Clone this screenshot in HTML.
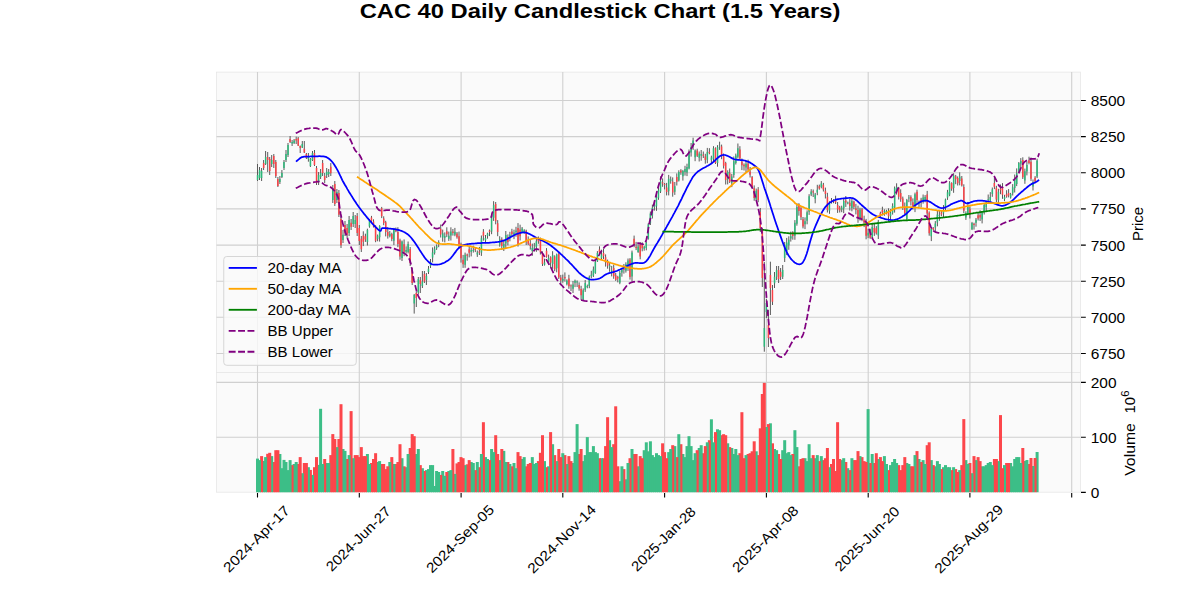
<!DOCTYPE html>
<html><head><meta charset="utf-8"><style>
html,body{margin:0;padding:0;background:#fff;}
svg{display:block;}
.t{font-family:"Liberation Sans",sans-serif;font-size:14px;fill:#000;}
.title{font-family:"Liberation Sans",sans-serif;font-size:20px;font-weight:bold;fill:#000;}
</style></head><body>
<svg width="1200" height="600" viewBox="0 0 1200 600">
<rect x="216.5" y="72.1" width="864.0" height="300.4" fill="#fafafa" stroke="#e6e6e6" stroke-width="0.8"/>
<rect x="216.5" y="372.5" width="864.0" height="119.69999999999999" fill="#fafafa" stroke="#e6e6e6" stroke-width="0.8"/>
<path d="M257.5,72.1V372.5M257.5,372.5V492.2M359.3,72.1V372.5M359.3,372.5V492.2M461.1,72.1V372.5M461.1,372.5V492.2M562.8,72.1V372.5M562.8,372.5V492.2M664.6,72.1V372.5M664.6,372.5V492.2M766.4,72.1V372.5M766.4,372.5V492.2M868.2,72.1V372.5M868.2,372.5V492.2M969.9,72.1V372.5M969.9,372.5V492.2M1071.7,72.1V372.5M1071.7,372.5V492.2M216.5,100.5H1080.5M216.5,136.6H1080.5M216.5,172.8H1080.5M216.5,208.9H1080.5M216.5,245.1H1080.5M216.5,281.2H1080.5M216.5,317.3H1080.5M216.5,353.5H1080.5M216.5,382.4H1080.5M216.5,437.3H1080.5" stroke="#d0d0d0" stroke-width="1.1" fill="none"/>
<g><rect x="1035.6" y="452" width="3" height="40.2" fill="#3cbe87"/><rect x="1033.6" y="458" width="3" height="34.2" fill="#fc464b"/><rect x="1031.5" y="466" width="3" height="26.2" fill="#3cbe87"/><rect x="1029.5" y="458" width="3" height="34.2" fill="#fc464b"/><rect x="1027.5" y="464" width="3" height="28.2" fill="#fc464b"/><rect x="1025.4" y="460" width="3" height="32.2" fill="#3cbe87"/><rect x="1023.4" y="461" width="3" height="31.2" fill="#3cbe87"/><rect x="1021.3" y="448" width="3" height="44.2" fill="#fc464b"/><rect x="1019.3" y="463" width="3" height="29.2" fill="#3cbe87"/><rect x="1017.3" y="457.1" width="3" height="35.1" fill="#3cbe87"/><rect x="1015.2" y="457.1" width="3" height="35.1" fill="#3cbe87"/><rect x="1013.2" y="459" width="3" height="33.2" fill="#3cbe87"/><rect x="1011.2" y="466.3" width="3" height="25.9" fill="#3cbe87"/><rect x="1009.1" y="463" width="3" height="29.2" fill="#3cbe87"/><rect x="1007.1" y="463" width="3" height="29.2" fill="#fc464b"/><rect x="1005.1" y="463" width="3" height="29.2" fill="#fc464b"/><rect x="1003" y="465.1" width="3" height="27.1" fill="#3cbe87"/><rect x="1001" y="468.2" width="3" height="24" fill="#fc464b"/><rect x="999" y="415.1" width="3" height="77.1" fill="#fc464b"/><rect x="996.9" y="461.1" width="3" height="31.1" fill="#3cbe87"/><rect x="994.9" y="459" width="3" height="33.2" fill="#fc464b"/><rect x="992.9" y="459" width="3" height="33.2" fill="#fc464b"/><rect x="990.8" y="465.1" width="3" height="27.1" fill="#3cbe87"/><rect x="988.8" y="462" width="3" height="30.2" fill="#3cbe87"/><rect x="986.7" y="463" width="3" height="29.2" fill="#3cbe87"/><rect x="984.7" y="465.1" width="3" height="27.1" fill="#3cbe87"/><rect x="982.7" y="466.3" width="3" height="25.9" fill="#3cbe87"/><rect x="980.6" y="466.3" width="3" height="25.9" fill="#3cbe87"/><rect x="978.6" y="461.1" width="3" height="31.1" fill="#fc464b"/><rect x="976.6" y="457.1" width="3" height="35.1" fill="#fc464b"/><rect x="974.5" y="460.1" width="3" height="32.1" fill="#3cbe87"/><rect x="972.5" y="456.1" width="3" height="36.1" fill="#fc464b"/><rect x="970.5" y="473.2" width="3" height="19" fill="#3cbe87"/><rect x="968.4" y="463" width="3" height="29.2" fill="#fc464b"/><rect x="966.4" y="464" width="3" height="28.2" fill="#3cbe87"/><rect x="964.4" y="460.1" width="3" height="32.1" fill="#3cbe87"/><rect x="962.3" y="419.1" width="3" height="73.1" fill="#fc464b"/><rect x="960.3" y="465.1" width="3" height="27.1" fill="#fc464b"/><rect x="958.2" y="470.1" width="3" height="22.1" fill="#3cbe87"/><rect x="956.2" y="472" width="3" height="20.2" fill="#fc464b"/><rect x="954.2" y="469.1" width="3" height="23.1" fill="#fc464b"/><rect x="952.1" y="467.2" width="3" height="25" fill="#3cbe87"/><rect x="950.1" y="470.1" width="3" height="22.1" fill="#fc464b"/><rect x="948.1" y="467.2" width="3" height="25" fill="#3cbe87"/><rect x="946" y="467.2" width="3" height="25" fill="#3cbe87"/><rect x="944" y="465.1" width="3" height="27.1" fill="#3cbe87"/><rect x="942" y="467.2" width="3" height="25" fill="#3cbe87"/><rect x="939.9" y="469.1" width="3" height="23.1" fill="#fc464b"/><rect x="937.9" y="464" width="3" height="28.2" fill="#3cbe87"/><rect x="935.9" y="461.1" width="3" height="31.1" fill="#3cbe87"/><rect x="933.8" y="466.3" width="3" height="25.9" fill="#3cbe87"/><rect x="931.8" y="465.1" width="3" height="27.1" fill="#fc464b"/><rect x="929.8" y="460.1" width="3" height="32.1" fill="#3cbe87"/><rect x="927.7" y="442.3" width="3" height="49.9" fill="#fc464b"/><rect x="925.7" y="445.2" width="3" height="47" fill="#fc464b"/><rect x="923.6" y="464" width="3" height="28.2" fill="#3cbe87"/><rect x="921.6" y="460.1" width="3" height="32.1" fill="#3cbe87"/><rect x="919.6" y="462" width="3" height="30.2" fill="#fc464b"/><rect x="917.5" y="459" width="3" height="33.2" fill="#3cbe87"/><rect x="915.5" y="451.1" width="3" height="41.1" fill="#fc464b"/><rect x="913.5" y="455.1" width="3" height="37.1" fill="#3cbe87"/><rect x="911.4" y="466.3" width="3" height="25.9" fill="#fc464b"/><rect x="909.4" y="466.3" width="3" height="25.9" fill="#fc464b"/><rect x="907.4" y="464" width="3" height="28.2" fill="#3cbe87"/><rect x="905.3" y="463" width="3" height="29.2" fill="#3cbe87"/><rect x="903.3" y="457.1" width="3" height="35.1" fill="#fc464b"/><rect x="901.3" y="465.1" width="3" height="27.1" fill="#fc464b"/><rect x="899.2" y="470.1" width="3" height="22.1" fill="#fc464b"/><rect x="897.2" y="465.1" width="3" height="27.1" fill="#fc464b"/><rect x="895.1" y="463" width="3" height="29.2" fill="#3cbe87"/><rect x="893.1" y="459" width="3" height="33.2" fill="#3cbe87"/><rect x="891.1" y="462" width="3" height="30.2" fill="#3cbe87"/><rect x="889" y="465.1" width="3" height="27.1" fill="#3cbe87"/><rect x="887" y="470.1" width="3" height="22.1" fill="#fc464b"/><rect x="885" y="464" width="3" height="28.2" fill="#3cbe87"/><rect x="882.9" y="456.1" width="3" height="36.1" fill="#3cbe87"/><rect x="880.9" y="461.1" width="3" height="31.1" fill="#fc464b"/><rect x="878.9" y="457.1" width="3" height="35.1" fill="#fc464b"/><rect x="876.8" y="459" width="3" height="33.2" fill="#3cbe87"/><rect x="874.8" y="453.2" width="3" height="39" fill="#fc464b"/><rect x="872.8" y="463" width="3" height="29.2" fill="#fc464b"/><rect x="870.7" y="454" width="3" height="38.2" fill="#3cbe87"/><rect x="868.7" y="463" width="3" height="29.2" fill="#fc464b"/><rect x="866.6" y="409.1" width="3" height="83.1" fill="#3cbe87"/><rect x="864.6" y="462" width="3" height="30.2" fill="#fc464b"/><rect x="862.6" y="461.1" width="3" height="31.1" fill="#fc464b"/><rect x="860.5" y="457.1" width="3" height="35.1" fill="#fc464b"/><rect x="858.5" y="456.1" width="3" height="36.1" fill="#3cbe87"/><rect x="856.5" y="451.1" width="3" height="41.1" fill="#fc464b"/><rect x="854.4" y="460.1" width="3" height="32.1" fill="#fc464b"/><rect x="852.4" y="460.1" width="3" height="32.1" fill="#fc464b"/><rect x="850.4" y="458.2" width="3" height="34" fill="#3cbe87"/><rect x="848.3" y="470.1" width="3" height="22.1" fill="#fc464b"/><rect x="846.3" y="468.2" width="3" height="24" fill="#3cbe87"/><rect x="844.3" y="462" width="3" height="30.2" fill="#fc464b"/><rect x="842.2" y="458.2" width="3" height="34" fill="#3cbe87"/><rect x="840.2" y="460.1" width="3" height="32.1" fill="#3cbe87"/><rect x="838.2" y="459" width="3" height="33.2" fill="#fc464b"/><rect x="836.1" y="422.2" width="3" height="70" fill="#fc464b"/><rect x="834.1" y="471" width="3" height="21.2" fill="#fc464b"/><rect x="832" y="459" width="3" height="33.2" fill="#fc464b"/><rect x="830" y="464" width="3" height="28.2" fill="#fc464b"/><rect x="828" y="467.2" width="3" height="25" fill="#3cbe87"/><rect x="825.9" y="448" width="3" height="44.2" fill="#fc464b"/><rect x="823.9" y="458.2" width="3" height="34" fill="#fc464b"/><rect x="821.9" y="460.1" width="3" height="32.1" fill="#fc464b"/><rect x="819.8" y="456.1" width="3" height="36.1" fill="#3cbe87"/><rect x="817.8" y="461.1" width="3" height="31.1" fill="#fc464b"/><rect x="815.8" y="455.1" width="3" height="37.1" fill="#3cbe87"/><rect x="813.7" y="458.2" width="3" height="34" fill="#3cbe87"/><rect x="811.7" y="455.1" width="3" height="37.1" fill="#fc464b"/><rect x="809.7" y="458.2" width="3" height="34" fill="#3cbe87"/><rect x="807.6" y="444.2" width="3" height="48" fill="#3cbe87"/><rect x="805.6" y="461.1" width="3" height="31.1" fill="#3cbe87"/><rect x="803.5" y="458.2" width="3" height="34" fill="#3cbe87"/><rect x="801.5" y="458.2" width="3" height="34" fill="#fc464b"/><rect x="799.5" y="459" width="3" height="33.2" fill="#fc464b"/><rect x="797.4" y="466.3" width="3" height="25.9" fill="#fc464b"/><rect x="795.4" y="447.1" width="3" height="45.1" fill="#3cbe87"/><rect x="793.4" y="430.2" width="3" height="62" fill="#3cbe87"/><rect x="791.3" y="454" width="3" height="38.2" fill="#fc464b"/><rect x="789.3" y="455.1" width="3" height="37.1" fill="#3cbe87"/><rect x="787.3" y="452.1" width="3" height="40.1" fill="#3cbe87"/><rect x="785.2" y="453.2" width="3" height="39" fill="#3cbe87"/><rect x="783.2" y="440.2" width="3" height="52" fill="#3cbe87"/><rect x="781.2" y="450.2" width="3" height="42" fill="#3cbe87"/><rect x="779.1" y="459" width="3" height="33.2" fill="#fc464b"/><rect x="777.1" y="454" width="3" height="38.2" fill="#fc464b"/><rect x="775.1" y="450.2" width="3" height="42" fill="#3cbe87"/><rect x="773" y="449" width="3" height="43.2" fill="#3cbe87"/><rect x="771" y="443.3" width="3" height="48.9" fill="#fc464b"/><rect x="768.9" y="423.3" width="3" height="68.9" fill="#3cbe87"/><rect x="766.9" y="424.1" width="3" height="68.1" fill="#fc464b"/><rect x="764.9" y="427" width="3" height="65.2" fill="#3cbe87"/><rect x="762.8" y="382.9" width="3" height="109.3" fill="#fc464b"/><rect x="760.8" y="394" width="3" height="98.2" fill="#fc464b"/><rect x="758.8" y="428.3" width="3" height="63.9" fill="#fc464b"/><rect x="756.7" y="455.1" width="3" height="37.1" fill="#fc464b"/><rect x="754.7" y="451.3" width="3" height="40.9" fill="#3cbe87"/><rect x="752.7" y="441.3" width="3" height="50.9" fill="#fc464b"/><rect x="750.6" y="451.3" width="3" height="40.9" fill="#fc464b"/><rect x="748.6" y="453.2" width="3" height="39" fill="#fc464b"/><rect x="746.6" y="454" width="3" height="38.2" fill="#fc464b"/><rect x="744.5" y="455.1" width="3" height="37.1" fill="#3cbe87"/><rect x="742.5" y="458.2" width="3" height="34" fill="#fc464b"/><rect x="740.4" y="412.2" width="3" height="80" fill="#fc464b"/><rect x="738.4" y="453.2" width="3" height="39" fill="#fc464b"/><rect x="736.4" y="455.1" width="3" height="37.1" fill="#3cbe87"/><rect x="734.3" y="449" width="3" height="43.2" fill="#3cbe87"/><rect x="732.3" y="454" width="3" height="38.2" fill="#3cbe87"/><rect x="730.3" y="448" width="3" height="44.2" fill="#3cbe87"/><rect x="728.2" y="447.1" width="3" height="45.1" fill="#fc464b"/><rect x="726.2" y="443.3" width="3" height="48.9" fill="#3cbe87"/><rect x="724.2" y="435.2" width="3" height="57" fill="#fc464b"/><rect x="722.1" y="434.2" width="3" height="58" fill="#fc464b"/><rect x="720.1" y="435.2" width="3" height="57" fill="#fc464b"/><rect x="718.1" y="430.2" width="3" height="62" fill="#3cbe87"/><rect x="716" y="429.3" width="3" height="62.9" fill="#3cbe87"/><rect x="714" y="432.1" width="3" height="60.1" fill="#fc464b"/><rect x="712" y="442.3" width="3" height="49.9" fill="#3cbe87"/><rect x="709.9" y="419.3" width="3" height="72.9" fill="#3cbe87"/><rect x="707.9" y="440.2" width="3" height="52" fill="#fc464b"/><rect x="705.8" y="442.3" width="3" height="49.9" fill="#3cbe87"/><rect x="703.8" y="446.1" width="3" height="46.1" fill="#fc464b"/><rect x="701.8" y="453.2" width="3" height="39" fill="#fc464b"/><rect x="699.7" y="445.2" width="3" height="47" fill="#3cbe87"/><rect x="697.7" y="448" width="3" height="44.2" fill="#3cbe87"/><rect x="695.7" y="450.2" width="3" height="42" fill="#fc464b"/><rect x="693.6" y="453.2" width="3" height="39" fill="#3cbe87"/><rect x="691.6" y="460.1" width="3" height="32.1" fill="#3cbe87"/><rect x="689.6" y="446.1" width="3" height="46.1" fill="#3cbe87"/><rect x="687.5" y="436.2" width="3" height="56" fill="#3cbe87"/><rect x="685.5" y="446.1" width="3" height="46.1" fill="#3cbe87"/><rect x="683.5" y="457.1" width="3" height="35.1" fill="#3cbe87"/><rect x="681.4" y="454" width="3" height="38.2" fill="#3cbe87"/><rect x="679.4" y="444.2" width="3" height="48" fill="#fc464b"/><rect x="677.3" y="434.2" width="3" height="58" fill="#3cbe87"/><rect x="675.3" y="457.1" width="3" height="35.1" fill="#fc464b"/><rect x="673.3" y="446.1" width="3" height="46.1" fill="#3cbe87"/><rect x="671.2" y="445.2" width="3" height="47" fill="#fc464b"/><rect x="669.2" y="449" width="3" height="43.2" fill="#3cbe87"/><rect x="667.2" y="452.1" width="3" height="40.1" fill="#3cbe87"/><rect x="665.1" y="458.2" width="3" height="34" fill="#fc464b"/><rect x="663.1" y="452.1" width="3" height="40.1" fill="#fc464b"/><rect x="661.1" y="443.3" width="3" height="48.9" fill="#fc464b"/><rect x="659" y="456.1" width="3" height="36.1" fill="#3cbe87"/><rect x="657" y="455.1" width="3" height="37.1" fill="#3cbe87"/><rect x="655" y="453.2" width="3" height="39" fill="#3cbe87"/><rect x="652.9" y="457.1" width="3" height="35.1" fill="#3cbe87"/><rect x="650.9" y="455.1" width="3" height="37.1" fill="#3cbe87"/><rect x="648.9" y="441.3" width="3" height="50.9" fill="#3cbe87"/><rect x="646.8" y="451.3" width="3" height="40.9" fill="#3cbe87"/><rect x="644.8" y="442.3" width="3" height="49.9" fill="#3cbe87"/><rect x="642.7" y="450.2" width="3" height="42" fill="#3cbe87"/><rect x="640.7" y="458.2" width="3" height="34" fill="#fc464b"/><rect x="638.7" y="456.1" width="3" height="36.1" fill="#fc464b"/><rect x="636.6" y="466.3" width="3" height="25.9" fill="#3cbe87"/><rect x="634.6" y="454" width="3" height="38.2" fill="#fc464b"/><rect x="632.6" y="454" width="3" height="38.2" fill="#fc464b"/><rect x="630.5" y="449" width="3" height="43.2" fill="#3cbe87"/><rect x="628.5" y="458.2" width="3" height="34" fill="#fc464b"/><rect x="626.5" y="463" width="3" height="29.2" fill="#3cbe87"/><rect x="624.4" y="479.3" width="3" height="12.9" fill="#3cbe87"/><rect x="622.4" y="469.1" width="3" height="23.1" fill="#fc464b"/><rect x="620.4" y="466.3" width="3" height="25.9" fill="#3cbe87"/><rect x="618.3" y="481.2" width="3" height="11" fill="#3cbe87"/><rect x="616.3" y="466.3" width="3" height="25.9" fill="#fc464b"/><rect x="614.2" y="406.3" width="3" height="85.9" fill="#fc464b"/><rect x="612.2" y="444.2" width="3" height="48" fill="#fc464b"/><rect x="610.2" y="447.1" width="3" height="45.1" fill="#3cbe87"/><rect x="608.1" y="440.2" width="3" height="52" fill="#3cbe87"/><rect x="606.1" y="417.2" width="3" height="75" fill="#fc464b"/><rect x="604.1" y="446.1" width="3" height="46.1" fill="#fc464b"/><rect x="602" y="458.2" width="3" height="34" fill="#fc464b"/><rect x="600" y="458.2" width="3" height="34" fill="#3cbe87"/><rect x="598" y="458.2" width="3" height="34" fill="#fc464b"/><rect x="595.9" y="453.2" width="3" height="39" fill="#3cbe87"/><rect x="593.9" y="452.1" width="3" height="40.1" fill="#3cbe87"/><rect x="591.9" y="446.1" width="3" height="46.1" fill="#3cbe87"/><rect x="589.8" y="452.1" width="3" height="40.1" fill="#3cbe87"/><rect x="587.8" y="452.1" width="3" height="40.1" fill="#3cbe87"/><rect x="585.8" y="437.1" width="3" height="55.1" fill="#3cbe87"/><rect x="583.7" y="455.1" width="3" height="37.1" fill="#3cbe87"/><rect x="581.7" y="461.1" width="3" height="31.1" fill="#3cbe87"/><rect x="579.6" y="449" width="3" height="43.2" fill="#fc464b"/><rect x="577.6" y="454" width="3" height="38.2" fill="#fc464b"/><rect x="575.6" y="424.1" width="3" height="68.1" fill="#3cbe87"/><rect x="573.5" y="452.1" width="3" height="40.1" fill="#3cbe87"/><rect x="571.5" y="463" width="3" height="29.2" fill="#3cbe87"/><rect x="569.5" y="461.1" width="3" height="31.1" fill="#fc464b"/><rect x="567.4" y="456.1" width="3" height="36.1" fill="#fc464b"/><rect x="565.4" y="464" width="3" height="28.2" fill="#3cbe87"/><rect x="563.4" y="455.1" width="3" height="37.1" fill="#fc464b"/><rect x="561.3" y="453.2" width="3" height="39" fill="#3cbe87"/><rect x="559.3" y="457.1" width="3" height="35.1" fill="#fc464b"/><rect x="557.3" y="449" width="3" height="43.2" fill="#fc464b"/><rect x="555.2" y="461.1" width="3" height="31.1" fill="#3cbe87"/><rect x="553.2" y="455.1" width="3" height="37.1" fill="#fc464b"/><rect x="551.1" y="444.2" width="3" height="48" fill="#3cbe87"/><rect x="549.1" y="432.1" width="3" height="60.1" fill="#fc464b"/><rect x="547.1" y="466.3" width="3" height="25.9" fill="#3cbe87"/><rect x="545" y="467.2" width="3" height="25" fill="#fc464b"/><rect x="543" y="461.1" width="3" height="31.1" fill="#3cbe87"/><rect x="541" y="435.2" width="3" height="57" fill="#fc464b"/><rect x="538.9" y="452.8" width="3" height="39.4" fill="#fc464b"/><rect x="536.9" y="461.1" width="3" height="31.1" fill="#fc464b"/><rect x="534.9" y="463" width="3" height="29.2" fill="#3cbe87"/><rect x="532.8" y="464" width="3" height="28.2" fill="#3cbe87"/><rect x="530.8" y="457.1" width="3" height="35.1" fill="#3cbe87"/><rect x="528.8" y="463" width="3" height="29.2" fill="#fc464b"/><rect x="526.7" y="464" width="3" height="28.2" fill="#fc464b"/><rect x="524.7" y="466.3" width="3" height="25.9" fill="#fc464b"/><rect x="522.7" y="457.1" width="3" height="35.1" fill="#3cbe87"/><rect x="520.6" y="459" width="3" height="33.2" fill="#3cbe87"/><rect x="518.6" y="456.1" width="3" height="36.1" fill="#fc464b"/><rect x="516.5" y="452.1" width="3" height="40.1" fill="#fc464b"/><rect x="514.5" y="468.2" width="3" height="24" fill="#3cbe87"/><rect x="512.5" y="463" width="3" height="29.2" fill="#3cbe87"/><rect x="510.4" y="466.3" width="3" height="25.9" fill="#fc464b"/><rect x="508.4" y="464" width="3" height="28.2" fill="#3cbe87"/><rect x="506.4" y="462" width="3" height="30.2" fill="#fc464b"/><rect x="504.3" y="462" width="3" height="30.2" fill="#3cbe87"/><rect x="502.3" y="450.9" width="3" height="41.3" fill="#3cbe87"/><rect x="500.3" y="449" width="3" height="43.2" fill="#fc464b"/><rect x="498.2" y="460.1" width="3" height="32.1" fill="#3cbe87"/><rect x="496.2" y="454" width="3" height="38.2" fill="#fc464b"/><rect x="494.2" y="435.2" width="3" height="57" fill="#fc464b"/><rect x="492.1" y="452.1" width="3" height="40.1" fill="#3cbe87"/><rect x="490.1" y="449" width="3" height="43.2" fill="#3cbe87"/><rect x="488" y="460.1" width="3" height="32.1" fill="#fc464b"/><rect x="486" y="459" width="3" height="33.2" fill="#3cbe87"/><rect x="484" y="457.1" width="3" height="35.1" fill="#3cbe87"/><rect x="481.9" y="422.2" width="3" height="70" fill="#fc464b"/><rect x="479.9" y="454" width="3" height="38.2" fill="#3cbe87"/><rect x="477.9" y="467.2" width="3" height="25" fill="#fc464b"/><rect x="475.8" y="462" width="3" height="30.2" fill="#3cbe87"/><rect x="473.8" y="470.1" width="3" height="22.1" fill="#fc464b"/><rect x="471.8" y="463" width="3" height="29.2" fill="#3cbe87"/><rect x="469.7" y="462" width="3" height="30.2" fill="#3cbe87"/><rect x="467.7" y="460.1" width="3" height="32.1" fill="#fc464b"/><rect x="465.7" y="464.3" width="3" height="27.9" fill="#fc464b"/><rect x="463.6" y="465.1" width="3" height="27.1" fill="#3cbe87"/><rect x="461.6" y="458.2" width="3" height="34" fill="#fc464b"/><rect x="459.5" y="457.1" width="3" height="35.1" fill="#fc464b"/><rect x="457.5" y="462" width="3" height="30.2" fill="#fc464b"/><rect x="455.5" y="463.4" width="3" height="28.8" fill="#fc464b"/><rect x="453.4" y="473.9" width="3" height="18.3" fill="#3cbe87"/><rect x="451.4" y="449" width="3" height="43.2" fill="#fc464b"/><rect x="449.4" y="470.1" width="3" height="22.1" fill="#3cbe87"/><rect x="447.3" y="471" width="3" height="21.2" fill="#3cbe87"/><rect x="445.3" y="472" width="3" height="20.2" fill="#fc464b"/><rect x="443.3" y="475.8" width="3" height="16.4" fill="#3cbe87"/><rect x="441.2" y="471" width="3" height="21.2" fill="#3cbe87"/><rect x="439.2" y="474.9" width="3" height="17.3" fill="#fc464b"/><rect x="437.2" y="472" width="3" height="20.2" fill="#3cbe87"/><rect x="435.1" y="471" width="3" height="21.2" fill="#3cbe87"/><rect x="433.1" y="486" width="3" height="6.2" fill="#3cbe87"/><rect x="431.1" y="465.1" width="3" height="27.1" fill="#3cbe87"/><rect x="429" y="465.1" width="3" height="27.1" fill="#3cbe87"/><rect x="427" y="469.1" width="3" height="23.1" fill="#3cbe87"/><rect x="424.9" y="470.1" width="3" height="22.1" fill="#3cbe87"/><rect x="422.9" y="471" width="3" height="21.2" fill="#fc464b"/><rect x="420.9" y="468.2" width="3" height="24" fill="#3cbe87"/><rect x="418.8" y="465.1" width="3" height="27.1" fill="#fc464b"/><rect x="416.8" y="449" width="3" height="43.2" fill="#3cbe87"/><rect x="414.8" y="454" width="3" height="38.2" fill="#3cbe87"/><rect x="412.7" y="436.2" width="3" height="56" fill="#fc464b"/><rect x="410.7" y="434.1" width="3" height="58.1" fill="#fc464b"/><rect x="408.7" y="448" width="3" height="44.2" fill="#fc464b"/><rect x="406.6" y="454" width="3" height="38.2" fill="#3cbe87"/><rect x="404.6" y="467.2" width="3" height="25" fill="#3cbe87"/><rect x="402.6" y="466.3" width="3" height="25.9" fill="#fc464b"/><rect x="400.5" y="458.2" width="3" height="34" fill="#3cbe87"/><rect x="398.5" y="444.2" width="3" height="48" fill="#fc464b"/><rect x="396.4" y="462" width="3" height="30.2" fill="#fc464b"/><rect x="394.4" y="464" width="3" height="28.2" fill="#fc464b"/><rect x="392.4" y="464" width="3" height="28.2" fill="#3cbe87"/><rect x="390.3" y="457.1" width="3" height="35.1" fill="#fc464b"/><rect x="388.3" y="462" width="3" height="30.2" fill="#3cbe87"/><rect x="386.3" y="466.3" width="3" height="25.9" fill="#fc464b"/><rect x="384.2" y="469.1" width="3" height="23.1" fill="#fc464b"/><rect x="382.2" y="464" width="3" height="28.2" fill="#fc464b"/><rect x="380.2" y="464" width="3" height="28.2" fill="#fc464b"/><rect x="378.1" y="461.1" width="3" height="31.1" fill="#3cbe87"/><rect x="376.1" y="462" width="3" height="30.2" fill="#3cbe87"/><rect x="374.1" y="453.2" width="3" height="39" fill="#fc464b"/><rect x="372" y="459" width="3" height="33.2" fill="#fc464b"/><rect x="370" y="463" width="3" height="29.2" fill="#fc464b"/><rect x="368" y="464" width="3" height="28.2" fill="#3cbe87"/><rect x="365.9" y="454" width="3" height="38.2" fill="#3cbe87"/><rect x="363.9" y="456.1" width="3" height="36.1" fill="#fc464b"/><rect x="361.8" y="456.1" width="3" height="36.1" fill="#fc464b"/><rect x="359.8" y="447.1" width="3" height="45.1" fill="#fc464b"/><rect x="357.8" y="457.1" width="3" height="35.1" fill="#fc464b"/><rect x="355.7" y="455.1" width="3" height="37.1" fill="#fc464b"/><rect x="353.7" y="455.1" width="3" height="37.1" fill="#fc464b"/><rect x="351.7" y="458.2" width="3" height="34" fill="#3cbe87"/><rect x="349.6" y="411.1" width="3" height="81.1" fill="#fc464b"/><rect x="347.6" y="455.1" width="3" height="37.1" fill="#3cbe87"/><rect x="345.6" y="459" width="3" height="33.2" fill="#fc464b"/><rect x="343.5" y="450.9" width="3" height="41.3" fill="#3cbe87"/><rect x="341.5" y="449" width="3" height="43.2" fill="#3cbe87"/><rect x="339.5" y="404.2" width="3" height="88" fill="#fc464b"/><rect x="337.4" y="439" width="3" height="53.2" fill="#fc464b"/><rect x="335.4" y="447.1" width="3" height="45.1" fill="#3cbe87"/><rect x="333.3" y="439" width="3" height="53.2" fill="#fc464b"/><rect x="331.3" y="434.1" width="3" height="58.1" fill="#fc464b"/><rect x="329.3" y="455.1" width="3" height="37.1" fill="#fc464b"/><rect x="327.2" y="463" width="3" height="29.2" fill="#3cbe87"/><rect x="325.2" y="463" width="3" height="29.2" fill="#3cbe87"/><rect x="323.2" y="459" width="3" height="33.2" fill="#fc464b"/><rect x="321.1" y="464" width="3" height="28.2" fill="#3cbe87"/><rect x="319.1" y="408.8" width="3" height="83.4" fill="#3cbe87"/><rect x="317.1" y="464.9" width="3" height="27.3" fill="#3cbe87"/><rect x="315" y="457.1" width="3" height="35.1" fill="#fc464b"/><rect x="313" y="467.2" width="3" height="25" fill="#fc464b"/><rect x="311" y="474.9" width="3" height="17.3" fill="#3cbe87"/><rect x="308.9" y="469.9" width="3" height="22.3" fill="#fc464b"/><rect x="306.9" y="467.2" width="3" height="25" fill="#3cbe87"/><rect x="304.9" y="463" width="3" height="29.2" fill="#fc464b"/><rect x="302.8" y="463" width="3" height="29.2" fill="#fc464b"/><rect x="300.8" y="473.2" width="3" height="19" fill="#3cbe87"/><rect x="298.7" y="457.1" width="3" height="35.1" fill="#fc464b"/><rect x="296.7" y="464" width="3" height="28.2" fill="#fc464b"/><rect x="294.7" y="462" width="3" height="30.2" fill="#3cbe87"/><rect x="292.6" y="464" width="3" height="28.2" fill="#3cbe87"/><rect x="290.6" y="465.1" width="3" height="27.1" fill="#fc464b"/><rect x="288.6" y="460.1" width="3" height="32.1" fill="#3cbe87"/><rect x="286.5" y="470.1" width="3" height="22.1" fill="#3cbe87"/><rect x="284.5" y="462" width="3" height="30.2" fill="#3cbe87"/><rect x="282.5" y="459.9" width="3" height="32.3" fill="#3cbe87"/><rect x="280.4" y="468.2" width="3" height="24" fill="#3cbe87"/><rect x="278.4" y="454" width="3" height="38.2" fill="#3cbe87"/><rect x="276.4" y="450.2" width="3" height="42" fill="#fc464b"/><rect x="274.3" y="450.2" width="3" height="42" fill="#fc464b"/><rect x="272.3" y="462" width="3" height="30.2" fill="#fc464b"/><rect x="270.2" y="456.1" width="3" height="36.1" fill="#3cbe87"/><rect x="268.2" y="452.8" width="3" height="39.4" fill="#fc464b"/><rect x="266.2" y="453.8" width="3" height="38.4" fill="#fc464b"/><rect x="264.1" y="457.1" width="3" height="35.1" fill="#3cbe87"/><rect x="262.1" y="460.9" width="3" height="31.3" fill="#3cbe87"/><rect x="260.1" y="456.1" width="3" height="36.1" fill="#fc464b"/><rect x="258" y="460.1" width="3" height="32.1" fill="#3cbe87"/><rect x="256" y="458.6" width="3" height="33.6" fill="#3cbe87"/></g>
<path d="M257.5,164V181M259.5,167V180M261.6,168V181M263.6,160V170M265.6,151V165M267.7,152V172M269.7,157V175M271.7,155V167M273.8,154V168M275.8,160V178M277.9,177V187M279.9,176V184M281.9,170V178M284,160V170M286,150V162M288,143V157M290.1,136V143M292.1,140V146M294.1,139V144M296.2,136.7V144M298.2,137V146M300.2,145.5V153M302.3,141V148M304.3,141V153M306.4,153V159M308.4,153V161.7M310.4,158V167M312.5,151V161M314.5,150V166M316.5,166V185M318.6,172V185M320.6,169V179M322.6,160V176M324.7,173V183M326.7,168V178M328.7,169V177M330.8,163V176M332.8,185V203M334.8,181V206M336.9,189V203M338.9,190V217M341,216V248M343,230V243M345,221V236M347.1,224V238M349.1,216V236M351.1,219V230M353.2,212V227M355.2,215V228M357.2,213V236M359.3,225V245M361.3,236V252M363.3,231.3V246.1M365.4,233.7V241.9M367.4,228.7V245.5M369.5,219V227.7M371.5,215.9V222.5M373.5,219.3V227.5M375.6,225.2V242.2M377.6,234.5V241.3M379.6,225.2V241.6M381.7,206.9V218.1M383.7,216.3V225.2M385.7,220.8V236.4M387.8,227V238.6M389.8,231V237.4M391.8,232.7V241.2M393.9,227.9V245.1M395.9,227.5V232.2M397.9,227.2V247.2M400,238.7V259.7M402,240.5V261M404.1,239.4V256.2M406.1,246.3V253.6M408.1,241.5V253.4M410.2,247V266M412.2,268V285M414.2,294V313.6M416.3,291.6V307M418.3,277V294M420.3,277V293M422.4,271V288M424.4,271V283M426.4,273V285M428.5,266V274M430.5,259V268M432.6,247.4V262.4M434.6,246.3V254.6M436.6,244.4V249.9M438.7,240.3V247.2M440.7,224.5V237.5M442.7,229.6V241.7M444.8,232.4V242.4M446.8,227.3V237.1M448.8,231.6V240.9M450.9,227.3V240.5M452.9,229V235.6M454.9,227.9V236.2M457,232V238.7M459,231.6V248.6M461,242.7V262.6M463.1,254.9V267.9M465.1,252.6V267.8M467.2,253.6V260.7M469.2,246.2V257.4M471.2,247.5V256.4M473.3,245.7V252.6M475.3,247.1V252.1M477.3,250.5V256.9M479.4,246.9V255M481.4,235.5V255.9M483.4,229.1V240.7M485.5,235V243.2M487.5,232.7V238.7M489.5,229.5V236.1M491.6,214V234.2M493.6,201.2V220.9M495.7,202V224.3M497.7,220.1V236.2M499.7,236.2V246.7M501.8,237.3V250M503.8,241V251M505.8,231V248.1M507.9,234.4V245.4M509.9,231.8V241.3M511.9,228.8V237.1M514,229.7V239.1M516,226.8V236.7M518,223.1V246.6M520.1,224.7V240.5M522.1,227V233.3M524.2,229.2V233.8M526.2,229.7V245M528.2,236.4V245.1M530.3,239.4V249.6M532.3,243.6V255.8M534.3,242.9V251.4M536.4,238.4V251.8M538.4,236.5V243.8M540.4,237.6V254.5M542.5,251.4V266M544.5,258.7V265.6M546.5,248.1V257.7M548.6,254.6V264.7M550.6,256.3V267.7M552.6,251.2V268.8M554.7,255.3V271.2M556.7,253.6V272.3M558.8,252.2V279M560.8,274.9V285.2M562.8,274.6V282.7M564.9,272.4V281.5M566.9,279.3V285.4M568.9,274.8V288.8M571,284.4V291.1M573,281V293M575,279.6V287.1M577.1,280.4V287M579.1,282.3V290.7M581.1,285.8V300M583.2,288.4V300.9M585.2,280V291.9M587.3,284.6V288.3M589.3,275.5V288.2M591.3,270.8V278.2M593.4,266.5V277M595.4,259.8V273.8M597.4,251.1V262M599.5,246.3V254.1M601.5,249.7V259.2M603.5,248.7V259M605.6,254.4V266.6M607.6,259.6V268.7M609.6,261.9V271.8M611.7,265.9V276.4M613.7,264.7V278.8M615.7,272.9V280.9M617.8,275.8V282.4M619.8,271V284.2M621.9,268.1V276.7M623.9,264V273.6M625.9,262.3V272.6M628,258.5V270.9M630,258.1V279.6M632,250.6V281.3M634.1,235.6V247.2M636.1,241.9V250.1M638.1,244.3V252.9M640.2,242.1V259.3M642.2,242.3V251.3M644.2,245.9V250.7M646.3,241.4V250.3M648.3,223.2V239.6M650.4,211.5V225M652.4,204.6V218.5M654.4,201.3V210.6M656.5,193.4V210.8M658.5,187.8V199.8M660.5,176.4V193M662.6,178.4V186.8M664.6,183V189.4M666.6,182.9V195.4M668.7,174.9V195.4M670.7,176.5V183.7M672.7,177.4V196.7M674.8,182V194.9M676.8,173.4V185.5M678.8,170.3V181.5M680.9,169.2V174.8M682.9,169.9V180.6M685,165.8V175.6M687,163.7V176.1M689,149.5V169.4M691.1,143V156.6M693.1,137.7V149.9M695.1,149.4V161.2M697.2,148.7V157M699.2,151.5V161.5M701.2,150V160.7M703.3,151.5V158M705.3,153.8V163.7M707.3,147.9V163.2M709.4,148.2V154.3M711.4,155.7V163.9M713.5,146.2V161.9M715.5,147.4V164M717.5,145.2V166.7M719.6,141.7V149.9M721.6,144.6V159.2M723.6,153.5V168.5M725.7,161.8V184.5M727.7,170.3V184.4M729.7,168.5V183M731.8,173.9V187.1M733.8,156.5V177.8M735.8,153.6V164.5M737.9,143.5V158.5M739.9,146.2V160M741.9,158.5V170.1M744,163.4V170.5M746,160.8V172M748.1,159.7V171.5M750.1,167V177.5M752.1,176V188.1M754.2,185.4V200.8M756.2,188.6V201M758.2,187.1V202.2M760.3,208V232M762.3,228V287M764.3,262V351.7M766.4,299V318M768.4,310V347M770.4,261.7V315M772.5,285V305M774.5,272V288M776.6,266V280M778.6,266V283M780.6,268V280M782.7,265V279M784.7,242V262M786.7,237.9V255.1M788.8,236.3V249.8M790.8,231.6V241.6M792.8,231.2V239.7M794.9,220.1V239.8M796.9,203.5V225.7M798.9,203.2V215.7M801,206.5V220.1M803,217V228.4M805,217.4V229.1M807.1,210.4V224.3M809.1,194.2V214.9M811.2,189.2V196.1M813.2,189.5V197M815.2,192.9V203.3M817.3,184.8V195.2M819.3,184.6V189.7M821.3,181.1V188.3M823.4,182.9V191.5M825.4,187.6V198.5M827.4,192.8V212.5M829.5,201.2V213.8M831.5,198V203.6M833.5,199.2V203.2M835.6,195.7V204M837.6,202V212.9M839.7,205.9V212.5M841.7,205.7V212.2M843.7,198.4V213.1M845.8,196V206.9M847.8,201.6V204.3M849.8,199V210.6M851.9,198.2V211.3M853.9,200.7V209.2M855.9,203.9V214.4M858,205.7V222.8M860,207.7V220.5M862,207.8V221.2M864.1,215.7V227.1M866.1,218.9V239.3M868.1,228.7V238.2M870.2,228.8V238.8M872.2,222.9V239.2M874.3,223.2V235.9M876.3,226.1V234.6M878.3,219.9V239M880.4,211.7V217.1M882.4,206.7V215.5M884.4,209.3V215.8M886.5,209.8V214.4M888.5,208.3V221M890.5,209.2V220.6M892.6,203.3V214.6M894.6,186.5V212.6M896.6,183.3V194.6M898.7,186.9V199.5M900.7,189.3V201.8M902.8,196.6V210M904.8,202.5V214.6M906.8,198.9V221.1M908.9,195V202.2M910.9,195.3V205.5M912.9,198.4V209.6M915,192.6V212.1M917,189.7V204.4M919,200.5V207.4M921.1,197.8V207.3M923.1,194.5V203.6M925.1,195.1V202.3M927.2,190.9V218.2M929.2,211.4V235.7M931.3,227.3V241.1M933.3,227.1V230.4M935.3,221.1V232M937.4,210.1V226.3M939.4,210.2V220.8M941.4,210.2V216M943.5,205.1V217.2M945.5,198.6V210.8M947.5,189.9V199.9M949.6,181.1V196.2M951.6,182.3V190.8M953.6,173.2V192.8M955.7,174.9V184.2M957.7,176.4V185.5M959.7,172.3V185.3M961.8,176V186.5M963.8,184.3V213.2M965.9,211.3V219.9M967.9,201.9V215.1M969.9,206.6V218.5M972,221.9V230.1M974,222.7V229.6M976,218V226.7M978.1,213V220.5M980.1,210.3V221M982.1,211V223.4M984.2,202.8V214.5M986.2,200.7V211.3M988.2,194.5V203.6M990.3,192.1V201.7M992.3,187.5V196.8M994.4,178.1V189.1M996.4,185.8V202.1M998.4,188.8V204.8M1000.5,184.5V194.2M1002.5,183.1V198.8M1004.5,194.8V201.2M1006.6,190.2V197.7M1008.6,189.1V197.4M1010.6,192.9V198.6M1012.7,184.1V195.5M1014.7,174.5V192.5M1016.7,168.4V186.1M1018.8,162V173M1020.8,158.1V167.6M1022.8,157.3V179M1024.9,168.6V183.8M1026.9,161.3V175.4M1029,156.7V164.3M1031,157.5V180.9M1033,179.5V190.5M1035.1,176.1V183.4M1037.1,158.7V178.1" stroke="#5a5a5a" stroke-width="1" fill="none"/>
<path d="M256.8,175h1.5v5h-1.5zM258.8,170h1.5v8h-1.5zM260.8,171h1.5v7h-1.5zM264.9,157h1.5v7h-1.5zM271,160h1.5v4h-1.5zM279.1,179h1.5v3h-1.5zM281.2,173h1.5v4h-1.5zM283.2,162h1.5v6h-1.5zM285.2,154h1.5v6h-1.5zM287.3,145h1.5v10h-1.5zM291.4,142h1.5v1.5h-1.5zM293.4,140.5h1.5v2.5h-1.5zM301.5,144h1.5v3.5h-1.5zM307.6,157h1.5v2h-1.5zM309.7,159h1.5v7h-1.5zM311.7,153h1.5v7h-1.5zM317.8,175h1.5v7h-1.5zM319.9,173h1.5v4h-1.5zM326,171.7h1.5v3.3h-1.5zM328,172h1.5v2h-1.5zM332.1,188h1.5v12h-1.5zM336.1,192h1.5v8h-1.5zM342.2,234.7h1.5v5.3h-1.5zM348.3,220h1.5v13h-1.5zM352.4,216h1.5v8h-1.5zM354.5,220h1.5v4h-1.5zM366.7,229.9h1.5v12.1h-1.5zM368.7,220.1h1.5v6.5h-1.5zM376.8,235.7h1.5v3.2h-1.5zM378.9,226.1h1.5v11.1h-1.5zM389.1,233.8h1.5v2.4h-1.5zM393.1,229.8h1.5v11h-1.5zM401.3,241.4h1.5v16.5h-1.5zM405.3,250.1h1.5v1.6h-1.5zM407.4,243.9h1.5v8h-1.5zM413.5,295h1.5v8.5h-1.5zM417.6,279h1.5v13.5h-1.5zM421.6,281.5h1.5v4.5h-1.5zM425.7,276h1.5v4h-1.5zM427.7,268.7h1.5v3.3h-1.5zM429.8,262h1.5v4h-1.5zM431.8,252.4h1.5v5.2h-1.5zM433.8,248.7h1.5v4.2h-1.5zM435.9,246.2h1.5v2.1h-1.5zM437.9,241.9h1.5v1.8h-1.5zM442,233.2h1.5v4.4h-1.5zM444,235.9h1.5v1.9h-1.5zM448.1,235.8h1.5v2.9h-1.5zM450.1,231.4h1.5v4.2h-1.5zM454.2,231.8h1.5v2.9h-1.5zM464.4,254.8h1.5v9.9h-1.5zM470.5,250.1h1.5v1.8h-1.5zM472.5,249.9h1.5v1h-1.5zM476.6,252.4h1.5v2h-1.5zM480.7,238.2h1.5v14.4h-1.5zM484.7,238h1.5v2.2h-1.5zM486.8,233.6h1.5v2.5h-1.5zM490.8,215.6h1.5v15.8h-1.5zM492.9,205h1.5v12.7h-1.5zM499,239.3h1.5v5.5h-1.5zM503,243.9h1.5v4h-1.5zM505.1,235h1.5v8.4h-1.5zM509.2,234.7h1.5v3.6h-1.5zM513.2,232.5h1.5v1.9h-1.5zM515.3,230.6h1.5v1.7h-1.5zM521.4,228.4h1.5v3.6h-1.5zM523.4,230.3h1.5v1.7h-1.5zM531.5,248.1h1.5v2.9h-1.5zM533.6,247.7h1.5v1.3h-1.5zM535.6,241.3h1.5v5.6h-1.5zM543.8,262.5h1.5v2.2h-1.5zM547.8,258.1h1.5v3.7h-1.5zM551.9,255.3h1.5v8.7h-1.5zM556,254.6h1.5v13.7h-1.5zM562.1,278.9h1.5v1.9h-1.5zM566.1,280.4h1.5v3.9h-1.5zM572.3,284.4h1.5v4.4h-1.5zM574.3,280.8h1.5v2h-1.5zM576.3,281.5h1.5v1.1h-1.5zM582.4,290.3h1.5v9.3h-1.5zM584.5,283h1.5v7.1h-1.5zM586.5,286.1h1.5v1.2h-1.5zM588.5,277.1h1.5v8.9h-1.5zM590.6,274.8h1.5v1.4h-1.5zM592.6,269.4h1.5v6h-1.5zM594.6,262.1h1.5v10.8h-1.5zM596.7,253h1.5v8.2h-1.5zM600.7,254.4h1.5v3.5h-1.5zM608.9,265.6h1.5v1.3h-1.5zM610.9,270.2h1.5v2.5h-1.5zM619.1,272.9h1.5v9.8h-1.5zM621.1,269.3h1.5v3.1h-1.5zM625.2,264.3h1.5v6.5h-1.5zM627.2,260.6h1.5v7.6h-1.5zM631.3,252.5h1.5v24h-1.5zM637.4,246.6h1.5v5.5h-1.5zM643.5,246.7h1.5v2h-1.5zM645.5,242.6h1.5v5.3h-1.5zM647.6,224.2h1.5v14.5h-1.5zM649.6,213.6h1.5v9.6h-1.5zM651.6,207.8h1.5v7.7h-1.5zM653.7,205.3h1.5v1.8h-1.5zM655.7,197.2h1.5v9.1h-1.5zM657.7,190.3h1.5v7.4h-1.5zM659.8,181.3h1.5v10.3h-1.5zM667.9,178.8h1.5v12.4h-1.5zM670,179.5h1.5v1.2h-1.5zM674,186.3h1.5v5.4h-1.5zM678.1,172h1.5v8.6h-1.5zM682.2,171.1h1.5v5.2h-1.5zM684.2,168.9h1.5v3.2h-1.5zM686.2,167.1h1.5v5.4h-1.5zM688.3,152.3h1.5v16.3h-1.5zM690.3,147.1h1.5v5.5h-1.5zM692.3,140.6h1.5v6.2h-1.5zM694.4,150.5h1.5v6.8h-1.5zM698.5,153.5h1.5v4.2h-1.5zM700.5,153.9h1.5v1.9h-1.5zM706.6,151.9h1.5v7.9h-1.5zM710.7,157.5h1.5v2.5h-1.5zM712.7,148.3h1.5v10.4h-1.5zM716.8,147.1h1.5v16h-1.5zM718.8,145.4h1.5v0.8h-1.5zM727,172h1.5v7.6h-1.5zM731,176.6h1.5v6.2h-1.5zM733.1,161.3h1.5v13.8h-1.5zM735.1,155.6h1.5v7.3h-1.5zM737.1,148.2h1.5v8.6h-1.5zM745.3,163.8h1.5v3.7h-1.5zM755.4,190.7h1.5v8.9h-1.5zM763.6,328h1.5v18.7h-1.5zM765.6,303h1.5v9h-1.5zM773.8,276.7h1.5v6.6h-1.5zM775.8,270h1.5v6.7h-1.5zM781.9,270h1.5v6.7h-1.5zM783.9,245h1.5v13h-1.5zM786,242.4h1.5v8.5h-1.5zM788,239.8h1.5v5.4h-1.5zM790.1,236.3h1.5v2.1h-1.5zM794.1,222.7h1.5v13.1h-1.5zM796.2,207h1.5v16.7h-1.5zM804.3,221.3h1.5v2.9h-1.5zM806.3,212.3h1.5v8.4h-1.5zM808.4,196.2h1.5v15.5h-1.5zM810.4,191.6h1.5v3h-1.5zM814.5,194.6h1.5v4.1h-1.5zM816.5,189.8h1.5v2.6h-1.5zM820.6,183.4h1.5v3.7h-1.5zM828.7,203.7h1.5v7.1h-1.5zM840.9,207.5h1.5v2.2h-1.5zM843,201h1.5v7.3h-1.5zM847,202.5h1.5v0.9h-1.5zM851.1,200.9h1.5v7.1h-1.5zM859.3,209.6h1.5v9.6h-1.5zM867.4,232.7h1.5v2.8h-1.5zM871.5,227h1.5v10.4h-1.5zM877.6,221.8h1.5v13.7h-1.5zM883.7,211h1.5v1.4h-1.5zM885.7,210.7h1.5v1.7h-1.5zM889.8,212.7h1.5v3.5h-1.5zM891.8,206.1h1.5v6.7h-1.5zM893.9,188.3h1.5v19.5h-1.5zM895.9,187.1h1.5v5.4h-1.5zM906.1,199.9h1.5v19h-1.5zM908.1,197.6h1.5v0.9h-1.5zM914.2,194.2h1.5v13h-1.5zM918.3,202.2h1.5v1.2h-1.5zM922.4,197.4h1.5v4.6h-1.5zM924.4,196.9h1.5v2.9h-1.5zM930.5,229h1.5v7.2h-1.5zM934.6,223.5h1.5v3.9h-1.5zM936.6,214.6h1.5v7.9h-1.5zM938.6,215.2h1.5v0.9h-1.5zM942.7,209.9h1.5v3.4h-1.5zM944.7,199.6h1.5v7.7h-1.5zM946.8,192.3h1.5v5.2h-1.5zM948.8,183.2h1.5v11.4h-1.5zM952.9,175.4h1.5v12.6h-1.5zM959,176.5h1.5v4.5h-1.5zM965.1,212.9h1.5v4.6h-1.5zM967.1,206.5h1.5v7.7h-1.5zM971.2,222.9h1.5v6.3h-1.5zM975.3,219.8h1.5v2.9h-1.5zM981.4,212.9h1.5v6.7h-1.5zM983.4,205h1.5v7.6h-1.5zM985.5,201.5h1.5v5.8h-1.5zM987.5,199.2h1.5v0.9h-1.5zM989.5,196.9h1.5v3.9h-1.5zM991.6,189.3h1.5v4.7h-1.5zM997.7,191.7h1.5v8.4h-1.5zM1003.8,197h1.5v2.1h-1.5zM1009.9,194h1.5v3.6h-1.5zM1011.9,187.2h1.5v6.1h-1.5zM1014,179.4h1.5v8.6h-1.5zM1016,173.3h1.5v10.8h-1.5zM1018,163.1h1.5v8.7h-1.5zM1020.1,161h1.5v2.8h-1.5zM1024.1,171.2h1.5v9.2h-1.5zM1026.2,165h1.5v6.5h-1.5zM1032.3,181.9h1.5v4.7h-1.5zM1036.3,160.5h1.5v16.1h-1.5z" fill="#2cb87a"/>
<path d="M262.9,163h1.5v5h-1.5zM266.9,157h1.5v3h-1.5zM269,159h1.5v12h-1.5zM273,156h1.5v8h-1.5zM275.1,162h1.5v14h-1.5zM277.1,179h1.5v7h-1.5zM289.3,139h1.5v3h-1.5zM295.4,139h1.5v1.5h-1.5zM297.5,138.3h1.5v7.5h-1.5zM299.5,146h1.5v2h-1.5zM303.6,148.7h1.5v3.8h-1.5zM305.6,154h1.5v4h-1.5zM313.7,153h1.5v12h-1.5zM315.8,168h1.5v15h-1.5zM321.9,163h1.5v10h-1.5zM323.9,176h1.5v4h-1.5zM330,166.7h1.5v6.6h-1.5zM334.1,184h1.5v20h-1.5zM338.2,193h1.5v21.7h-1.5zM340.2,218.7h1.5v26.6h-1.5zM344.3,225h1.5v8h-1.5zM346.3,228h1.5v6.7h-1.5zM350.4,222.7h1.5v4h-1.5zM356.5,216h1.5v17h-1.5zM358.5,228h1.5v13h-1.5zM360.6,238.7h1.5v10.6h-1.5zM362.6,235.4h1.5v6.3h-1.5zM364.6,236.2h1.5v3.3h-1.5zM370.7,217.6h1.5v3.5h-1.5zM372.8,221.5h1.5v5h-1.5zM374.8,226h1.5v14.7h-1.5zM380.9,208.3h1.5v7.9h-1.5zM383,218.6h1.5v4.3h-1.5zM385,222.2h1.5v9.8h-1.5zM387,232h1.5v3.8h-1.5zM391.1,233.9h1.5v5h-1.5zM395.2,228.9h1.5v2.4h-1.5zM397.2,232h1.5v12.1h-1.5zM399.2,240.2h1.5v16.4h-1.5zM403.3,244.3h1.5v7.4h-1.5zM409.4,249h1.5v14h-1.5zM411.4,270h1.5v13h-1.5zM415.5,293h1.5v5h-1.5zM419.6,280h1.5v4h-1.5zM423.7,274h1.5v7.5h-1.5zM439.9,228.8h1.5v5.8h-1.5zM446.1,231.3h1.5v3h-1.5zM452.2,231.5h1.5v1.6h-1.5zM456.2,233.4h1.5v3.9h-1.5zM458.3,236.2h1.5v8.2h-1.5zM460.3,244.1h1.5v14.2h-1.5zM462.3,259.8h1.5v4.5h-1.5zM466.4,254.4h1.5v1.4h-1.5zM468.4,249.2h1.5v3.5h-1.5zM474.5,249.1h1.5v1.2h-1.5zM478.6,251.5h1.5v1.2h-1.5zM482.7,231.7h1.5v4.3h-1.5zM488.8,230.4h1.5v1.6h-1.5zM494.9,204.1h1.5v17.2h-1.5zM496.9,223.2h1.5v8.8h-1.5zM501,239.2h1.5v6.7h-1.5zM507.1,237.1h1.5v4.9h-1.5zM511.2,231.5h1.5v2.6h-1.5zM517.3,227.9h1.5v16.8h-1.5zM519.3,229.5h1.5v6.7h-1.5zM525.4,230.8h1.5v10.6h-1.5zM527.5,241h1.5v2.7h-1.5zM529.5,243.2h1.5v2.9h-1.5zM537.6,238h1.5v3.2h-1.5zM539.7,240.6h1.5v11.7h-1.5zM541.7,253.1h1.5v10.8h-1.5zM545.8,250.8h1.5v6h-1.5zM549.9,257.3h1.5v5.4h-1.5zM553.9,256.6h1.5v12.7h-1.5zM558,254.1h1.5v23.5h-1.5zM560,277.5h1.5v3.1h-1.5zM564.1,277.1h1.5v1.2h-1.5zM568.2,278.5h1.5v7.7h-1.5zM570.2,285.5h1.5v0.8h-1.5zM578.4,285h1.5v3.5h-1.5zM580.4,288.9h1.5v6.4h-1.5zM598.7,249.5h1.5v3h-1.5zM602.8,252.9h1.5v3.4h-1.5zM604.8,257.2h1.5v5.1h-1.5zM606.9,262.1h1.5v3.7h-1.5zM613,268.1h1.5v8.2h-1.5zM615,275.2h1.5v4.7h-1.5zM617,276.9h1.5v1.6h-1.5zM623.1,268.5h1.5v1.5h-1.5zM629.2,259.6h1.5v17.3h-1.5zM633.3,238.7h1.5v6.6h-1.5zM635.4,246.8h1.5v1.2h-1.5zM639.4,244.5h1.5v12h-1.5zM641.5,243.9h1.5v4.4h-1.5zM661.8,182.3h1.5v1.1h-1.5zM663.8,184h1.5v1.1h-1.5zM665.9,187.5h1.5v4.5h-1.5zM672,181.7h1.5v10.8h-1.5zM676.1,177h1.5v4.7h-1.5zM680.1,170.5h1.5v1.9h-1.5zM696.4,150.6h1.5v5.2h-1.5zM702.5,154.4h1.5v1.3h-1.5zM704.6,156.6h1.5v3.4h-1.5zM708.6,151.7h1.5v1.5h-1.5zM714.7,148.3h1.5v14.6h-1.5zM720.8,146.6h1.5v9.6h-1.5zM722.9,156.2h1.5v9.5h-1.5zM724.9,163.1h1.5v16.8h-1.5zM729,173.2h1.5v8.9h-1.5zM739.2,149.5h1.5v9.1h-1.5zM741.2,161.5h1.5v3.7h-1.5zM743.2,164.8h1.5v1.4h-1.5zM747.3,163.4h1.5v6.2h-1.5zM749.3,171.6h1.5v3.1h-1.5zM751.4,176.9h1.5v10.4h-1.5zM753.4,188.3h1.5v9.8h-1.5zM757.5,189.4h1.5v10.7h-1.5zM759.5,212h1.5v16h-1.5zM761.6,230h1.5v48h-1.5zM767.7,325h1.5v13h-1.5zM769.7,275h1.5v13h-1.5zM771.7,290h1.5v11.7h-1.5zM777.8,270h1.5v9h-1.5zM779.9,271.7h1.5v5h-1.5zM792.1,232.2h1.5v3.7h-1.5zM798.2,204.2h1.5v6.8h-1.5zM800.2,207.9h1.5v9.4h-1.5zM802.3,219.2h1.5v7.2h-1.5zM812.4,191.2h1.5v1.2h-1.5zM818.5,186.2h1.5v2.3h-1.5zM822.6,184.7h1.5v4.9h-1.5zM824.7,190.8h1.5v3.2h-1.5zM826.7,196.8h1.5v13.2h-1.5zM830.8,200.4h1.5v1h-1.5zM832.8,200.2h1.5v1h-1.5zM834.8,200.5h1.5v2.1h-1.5zM836.9,204.9h1.5v4.5h-1.5zM838.9,207.6h1.5v2.9h-1.5zM845,200.4h1.5v2h-1.5zM849.1,202.7h1.5v3.3h-1.5zM853.2,201.5h1.5v5.2h-1.5zM855.2,208.5h1.5v1.6h-1.5zM857.2,210.1h1.5v7.9h-1.5zM861.3,209.3h1.5v8.9h-1.5zM863.3,219.4h1.5v3h-1.5zM865.4,222.8h1.5v13h-1.5zM869.4,231.9h1.5v5.9h-1.5zM873.5,227.9h1.5v4.5h-1.5zM875.5,228.2h1.5v5h-1.5zM879.6,213h1.5v3h-1.5zM881.6,209.9h1.5v3.1h-1.5zM887.8,211.1h1.5v5.1h-1.5zM897.9,187.8h1.5v8.9h-1.5zM900,192.9h1.5v6.4h-1.5zM902,198.5h1.5v7.9h-1.5zM904,207.2h1.5v5.7h-1.5zM910.1,196.9h1.5v4.4h-1.5zM912.2,202.3h1.5v4.3h-1.5zM916.3,191.8h1.5v8.3h-1.5zM920.3,199.8h1.5v2.6h-1.5zM926.4,194.5h1.5v18.9h-1.5zM928.5,212.8h1.5v20.4h-1.5zM932.5,228.1h1.5v1.3h-1.5zM940.7,212.4h1.5v2h-1.5zM950.9,183.1h1.5v5.7h-1.5zM954.9,176.2h1.5v3.1h-1.5zM957,178h1.5v5.2h-1.5zM961,178.6h1.5v6.9h-1.5zM963.1,187.1h1.5v23.7h-1.5zM969.2,209.1h1.5v5.2h-1.5zM973.2,223.8h1.5v1.2h-1.5zM977.3,215.2h1.5v3.3h-1.5zM979.4,215.1h1.5v2.4h-1.5zM993.6,182.9h1.5v3.8h-1.5zM995.6,187.7h1.5v11.8h-1.5zM999.7,188.7h1.5v1.6h-1.5zM1001.7,187.3h1.5v7.4h-1.5zM1005.8,194.3h1.5v2.2h-1.5zM1007.8,193.1h1.5v2.5h-1.5zM1022.1,160h1.5v17.2h-1.5zM1028.2,160.3h1.5v2.7h-1.5zM1030.2,161.8h1.5v17h-1.5zM1034.3,177.8h1.5v3.8h-1.5z" fill="#fb4146"/>
<path d="M296,161.7 296.7,161 297.8,160.1 299,159.1 300,158.3 300.7,157.8 301.3,157.4 302,157.1 303.3,156.8 304,156.7 304.8,156.6 305.7,156.6 306.7,156.5 307.7,156.5 308.8,156.5 309.8,156.5 310.9,156.4 312,156.4 313,156.4 313.9,156.4 314.9,156.3 315.9,156.3 316.9,156.3 317.9,156.3 318.9,156.2 319.9,156.2 320.9,156.3 321.7,156.3 322.6,156.3 323.3,156.4 324.6,156.6 325.7,156.9 326.6,157.2 327.4,157.7 328.3,158.3 329.3,159 330.3,159.9 331.3,160.9 332.3,162 333.3,163.3 334.3,164.7 335.2,166.2 336.2,167.8 337.2,169.7 338.3,171.7 339.1,173.3 339.8,174.8 340.6,176.5 341.5,178.3 342.4,180.3 343.6,182.5 345,185 345.8,186.3 346.6,187.6 347.4,189.1 348.3,190.6 349.2,192.2 350.2,193.8 351.2,195.4 352.3,197.1 353.3,198.8 354.4,200.4 355.5,202.1 356.6,203.8 357.8,205.4 358.9,207 360,208.5 360.9,209.7 361.9,211 362.9,212.3 363.9,213.6 365,214.9 366.1,216.2 367.2,217.6 368.3,218.9 369.4,220.2 370.5,221.5 371.6,222.7 372.6,223.9 373.7,225 374.6,226.1 375.6,227.1 376.5,227.9 377.3,228.7 378,229.4 378.7,230 380.2,230.9 380.8,230.8 381.1,230 381.4,228.9 382.2,228.1 384,228 384.6,228.1 385.3,228.2 386.1,228.2 386.9,228.3 387.7,228.4 388.7,228.5 389.6,228.6 390.6,228.7 391.6,228.8 392.6,228.9 393.7,229.1 394.8,229.2 395.9,229.5 397,229.7 398.1,229.9 399.2,230.2 400.2,230.5 401.3,230.9 402.4,231.3 403.4,231.8 404.5,232.2 405.4,232.8 406.4,233.4 407.3,234 408.4,234.9 409.4,235.9 410.5,237 411.6,238.3 412.6,239.6 413.7,241 414.8,242.5 415.8,244 416.8,245.5 417.8,247.1 418.8,248.6 419.8,250.2 420.8,251.7 421.7,253.1 422.6,254.5 423.5,255.8 424.3,257.1 425.2,258.2 425.9,259.2 426.7,260 428.1,261.4 429.3,262.5 430.3,263.3 431.3,263.9 432.1,264.3 433,264.5 433.8,264.7 434.7,264.7 435.6,264.7 436.7,264.7 437.6,264.7 438.5,264.5 439.4,264.4 440.3,264.2 441.3,263.9 442.2,263.5 443.2,263.1 444.2,262.7 445.2,262.2 446.1,261.6 447.1,261 448.1,260.4 449,259.7 450,258.8 451,257.8 451.9,256.7 452.9,255.5 453.8,254.2 454.8,252.9 455.8,251.6 456.7,250.3 457.7,249.1 458.8,248 459.9,247.1 461,246.3 461.9,245.8 462.8,245.4 463.7,245.1 464.7,244.8 465.7,244.5 466.7,244.3 467.7,244.1 468.8,244 469.8,243.9 470.8,243.8 471.8,243.7 472.9,243.6 473.9,243.6 474.8,243.5 475.8,243.4 476.7,243.3 477.7,243.2 478.7,243.1 479.7,243 480.7,243 481.6,243 482.6,242.9 483.5,242.9 484.4,242.9 485.3,242.9 486.3,242.9 487.2,242.9 488.1,242.8 489.1,242.8 490,242.7 490.9,242.6 491.9,242.5 492.8,242.4 493.8,242.4 494.7,242.3 495.7,242.2 496.6,242.1 497.6,242 498.5,241.8 499.5,241.7 500.4,241.5 501.4,241.2 502.3,241 503.3,240.7 504.3,240.4 505.2,239.9 506.2,239.5 507.2,239 508.2,238.4 509.3,237.9 510.3,237.3 511.2,236.7 512.2,236.2 513.2,235.7 514.1,235.2 515,234.7 515.9,234.3 516.7,234 517.8,233.6 518.8,233.3 519.7,233 520.6,232.8 521.5,232.6 522.3,232.5 523.2,232.4 524.1,232.4 525,232.5 526,232.7 526.9,232.9 527.7,233.2 528.6,233.6 529.5,234 530.5,234.5 531.4,235 532.4,235.5 533.3,236.1 534.3,236.6 535.3,237.2 536.3,237.8 537.3,238.3 538.2,238.7 539.1,239.2 539.9,239.6 540.8,240 541.8,240.4 542.7,240.8 543.6,241.3 544.5,241.7 545.5,242.2 546.5,242.7 547.4,243.3 548.4,243.9 549.5,244.6 550.5,245.3 551.4,246 552.3,246.7 553.2,247.4 554.2,248.2 555.1,249 556.1,249.8 557.1,250.7 558.1,251.6 559.1,252.5 560.1,253.4 561.1,254.3 562.1,255.2 563,256.1 564,257 564.9,257.9 565.8,258.8 566.7,259.6 567.8,260.6 568.8,261.7 569.8,262.8 570.9,263.9 571.9,264.9 572.9,266 573.9,267.1 574.8,268.2 575.8,269.2 576.7,270.2 577.6,271.1 578.4,272 579.2,272.8 580,273.5 581.3,274.6 582.4,275.5 583.5,276.3 584.5,277 585.5,277.5 586.3,278 587.2,278.4 588,278.8 589.2,279.3 590.1,279.5 591,279.6 591.9,279.6 593,279.6 593.9,279.6 594.9,279.5 595.9,279.3 596.9,279.2 598,279 599,278.7 600,278.3 600.9,277.8 601.8,277.3 602.7,276.6 603.6,275.9 604.5,275.2 605.5,274.6 606.7,274 607.5,273.7 608.3,273.4 609.2,273.1 610,272.9 611,272.7 611.9,272.4 612.9,272.2 613.9,271.9 615,271.5 616.1,271.2 617.3,270.7 618.2,270.3 619.1,269.9 620,269.5 621,269 622,268.5 623.1,268 624.1,267.4 625.2,266.9 626.3,266.3 627.4,265.8 628.4,265.3 629.5,264.8 630.5,264.4 631.5,264 632.4,263.6 633.3,263.3 634.4,263 635.6,262.9 636.6,262.9 637.7,262.9 638.7,263 639.7,263.1 640.7,263.2 641.6,263.2 642.6,263.1 643.5,262.9 644.4,262.6 645.3,262 646.3,261.1 647.3,259.9 648.3,258.6 649.3,257.1 650.2,255.6 651.1,253.9 652,252.2 652.9,250.5 653.8,248.9 654.7,247.3 655.6,245.8 656.5,244.3 657.4,242.9 658.2,241.5 659.1,240 660,238.5 660.9,236.9 661.9,235.2 662.9,233.4 664,231.5 664.8,230 665.7,228.5 666.6,226.9 667.5,225.2 668.5,223.5 669.5,221.7 670.5,219.9 671.5,218.1 672.5,216.3 673.5,214.4 674.5,212.6 675.4,210.8 676.4,209 677.3,207.3 678.4,205.3 679.4,203.1 680.5,201 681.6,198.8 682.6,196.6 683.6,194.5 684.7,192.4 685.7,190.3 686.6,188.4 687.6,186.5 688.5,184.8 689.3,183.3 690.4,181.3 691.4,179.6 692.2,178.1 693,176.8 693.9,175.7 694.8,174.6 695.8,173.5 697,172.3 697.8,171.6 698.7,171 699.6,170.4 700.5,169.8 701.5,169.2 702.5,168.6 703.6,168 704.6,167.5 705.7,166.9 706.7,166.3 707.8,165.8 708.8,165.2 709.8,164.6 710.7,164 711.8,163.2 712.8,162.4 713.8,161.5 714.8,160.6 715.8,159.6 716.8,158.7 717.8,157.8 718.8,157 719.7,156.3 720.7,155.7 721.7,155.3 722.7,155 723.7,154.9 724.7,155 725.7,155.2 726.8,155.6 727.8,156 728.8,156.5 729.8,157 730.8,157.6 731.8,158.1 732.8,158.6 733.7,159 734.7,159.3 735.7,159.5 736.7,159.7 737.8,159.8 738.8,159.9 739.8,160 740.7,160.1 741.7,160.1 742.6,160.2 743.5,160.3 744.4,160.5 745.3,160.7 746.4,161.1 747.5,161.5 748.6,161.9 749.6,162.4 750.6,162.9 751.5,163.5 752.4,164.1 753.3,164.7 754.4,165.5 755.3,166.2 756.2,166.9 757,167.9 757.8,169.1 758.7,170.7 759.6,172.8 760.5,175.4 761.4,178.3 762.3,181.3 763.2,184.1 764,186.7 764.8,189.1 765.5,191 766.1,192.9 767,195.4 768.2,199 768.9,201.1 769.7,203.6 770.5,206.3 771.4,209.1 772.4,212.2 773.4,215.3 774.4,218.4 775.4,221.5 776.4,224.5 777.4,227.3 778.3,230 779.3,232.8 780.3,235.6 781.3,238.4 782.3,241.2 783.3,243.9 784.3,246.4 785.3,248.9 786.3,251.1 787.3,253.2 788.3,255 789.3,256.6 790.4,258.1 791.4,259.4 792.5,260.5 793.5,261.5 794.5,262.4 795.5,263 796.5,263.6 797.4,264 798.3,264.2 799.4,264.3 800.4,264.2 801.3,263.8 802.2,263.1 803.1,261.9 804,260.4 805,258.3 805.8,256.2 806.7,253.7 807.6,250.8 808.5,247.6 809.4,244.3 810.3,241 811.3,237.7 812.3,234.6 813.3,231.7 814.2,229.3 815.2,226.8 816.2,224.4 817.2,222.1 818.2,219.8 819.2,217.6 820.2,215.4 821.3,213.5 822.3,211.6 823.3,210 824.3,208.5 825.2,207.2 826.2,206.1 827.1,205.1 828,204.2 829,203.3 830,202.6 831,201.9 832.1,201.3 833.3,200.7 834.2,200.3 835.1,200 836.1,199.7 837.1,199.4 838.1,199.2 839.2,199 840.3,198.8 841.4,198.6 842.4,198.5 843.5,198.4 844.5,198.3 845.5,198.2 846.4,198.1 847.2,198.1 848,198 849.4,197.9 850.5,197.9 851.5,198 852.4,198.2 853.2,198.4 854,198.8 855,199.3 855.9,199.9 856.8,200.5 857.6,201.3 858.5,202.2 859.5,203.1 860.5,204 861.5,205 862.7,206 863.5,206.7 864.4,207.5 865.3,208.2 866.2,209.1 867.1,209.9 868.1,210.8 869.1,211.6 870.1,212.4 871.2,213.2 872.3,214 873.5,214.7 874.7,215.3 875.5,215.7 876.4,216.1 877.3,216.5 878.3,216.8 879.3,217.2 880.3,217.5 881.3,217.9 882.3,218.2 883.4,218.5 884.4,218.8 885.4,219.1 886.4,219.3 887.4,219.5 888.4,219.7 889.4,219.8 890.3,219.9 891.2,220 892,220 893.2,220 894.3,219.9 895.4,219.7 896.4,219.4 897.4,219.1 898.3,218.7 899.3,218.3 900.2,217.8 901.1,217.3 902.1,216.7 903,216.1 904,215.5 905,214.8 906,214 907,213.1 908,212.1 909.1,211.1 910.1,210.1 911.1,209 912.1,208 913.1,207.1 914.1,206.2 915,205.4 916,204.7 917,204 918,203.4 918.9,202.8 919.8,202.3 920.7,201.8 921.6,201.4 922.6,201 923.5,200.8 924.5,200.6 925.6,200.6 926.7,200.7 927.6,200.9 928.5,201.2 929.4,201.6 930.4,202.1 931.4,202.7 932.4,203.4 933.4,204.1 934.4,204.7 935.5,205.4 936.5,206 937.5,206.6 938.5,207.1 939.5,207.5 940.4,207.8 941.3,208 942.4,208 943.5,207.9 944.6,207.6 945.6,207.2 946.7,206.8 947.7,206.3 948.7,205.7 949.7,205.2 950.6,204.6 951.5,204.1 952.4,203.7 953.3,203.3 954.4,202.9 955.4,202.5 956.4,202.1 957.4,201.7 958.3,201.4 959.1,201.1 960,200.9 960.7,200.7 961.5,200.7 962.5,200.9 963.3,201.4 964.1,202 964.8,202.6 965.7,203.1 966.7,203.3 967.5,203.2 968.3,203.1 969.2,202.8 970.2,202.5 971.1,202.1 972.1,201.8 973.1,201.5 974.1,201.2 975,201 975.9,200.9 976.8,200.8 977.8,200.7 978.7,200.7 979.6,200.6 980.5,200.6 981.4,200.7 982.4,200.7 983.3,200.8 984.2,200.9 985.1,201 986,201.2 986.9,201.3 987.9,201.5 988.8,201.7 989.7,202 990.7,202.2 991.7,202.5 992.6,202.8 993.6,203.2 994.6,203.6 995.7,204 996.7,204.5 997.7,204.9 998.8,205.2 999.8,205.5 1000.8,205.7 1001.7,205.8 1002.7,205.8 1003.6,205.6 1004.5,205.4 1005.4,205.1 1006.3,204.7 1007.2,204.3 1008.1,203.8 1009,203.2 1010,202.5 1010.9,201.8 1011.9,201 1012.9,200.1 1013.9,199.2 1014.9,198.2 1015.9,197.2 1016.9,196.2 1018,195.2 1019,194.2 1020,193.3 1021,192.4 1022.1,191.5 1023.2,190.6 1024.2,189.6 1025.3,188.7 1026.4,187.9 1027.4,187 1028.3,186.3 1029.2,185.6 1030,185 1031.3,184.1 1032.4,183.6 1033.3,183.2 1034.1,182.9 1035,182.5 1036,182 1036.9,181.4 1037.9,180.8 1038.6,180.3 1039.2,180" stroke="#0000ff" stroke-width="1.75" fill="none" stroke-linejoin="round"/>
<path d="M357,176.7 357.5,177.1 358.1,177.4 358.8,177.9 359.5,178.4 360.3,178.9 361.1,179.4 362,180 362.9,180.6 363.8,181.2 364.8,181.9 365.9,182.6 366.9,183.3 368,184 369.2,184.7 370.3,185.5 371.5,186.2 372.6,187 373.8,187.8 375,188.6 376.2,189.3 377.4,190.1 378.6,190.9 379.7,191.7 380.9,192.5 382,193.2 383.2,194 384.3,194.7 385.4,195.5 386.4,196.2 387.4,196.9 388.4,197.5 389.3,198.2 390.2,198.8 391.1,199.4 391.9,200 392.6,200.5 393.3,201 395.1,202.4 396.7,203.5 397.9,204.5 398.9,205.4 399.8,206.2 400.5,206.9 401.2,207.6 401.9,208.3 402.5,209.1 403.3,209.9 404.2,210.9 405.3,212 406.2,212.9 407.1,213.8 408,214.8 409,215.9 409.9,216.9 410.9,218 412,219.2 413,220.3 414,221.5 415.1,222.6 416.1,223.8 417.1,224.9 418.1,226 419.1,227.1 420.1,228.1 421.1,229.1 422,230 423,231 424,232 425,233.1 426,234.1 427,235 427.9,236 428.9,236.9 429.8,237.8 430.7,238.7 431.7,239.5 432.6,240.3 433.5,241 434.4,241.6 435.4,242.2 436.3,242.7 437.3,243.1 438.3,243.5 439.3,243.7 440.4,243.9 441.4,244 442.4,244.1 443.4,244.1 444.4,244 445.4,244 446.4,244 447.3,243.9 448.2,243.9 449.1,243.9 450,244 451.1,244.1 452.2,244.3 453.3,244.4 454.3,244.5 455.2,244.7 456.2,244.8 457.1,244.9 458.1,245.1 459,245.2 460,245.3 461,245.4 461.9,245.5 462.8,245.5 463.7,245.5 464.6,245.6 465.5,245.7 466.5,245.7 467.6,245.8 468.7,246 470,246.2 470.8,246.4 471.6,246.6 472.5,246.8 473.3,247 474.2,247.3 475.1,247.6 476.1,247.9 477,248.2 478,248.5 479,248.8 480,249 481.1,249.3 482.2,249.5 483.3,249.7 484.4,249.8 485.5,249.9 486.7,250 487.5,250 488.4,250 489.3,250 490.2,250 491.2,250 492.1,249.9 493.1,249.8 494.1,249.8 495.1,249.7 496.1,249.6 497.1,249.5 498.1,249.4 499.1,249.3 500.2,249.1 501.2,249 502.2,248.8 503.2,248.7 504.2,248.5 505.2,248.3 506.2,248.1 507.2,247.9 508.1,247.7 509.1,247.5 510,247.3 511,247 512.1,246.7 513.2,246.4 514.2,246 515.3,245.6 516.4,245.2 517.4,244.8 518.5,244.3 519.6,243.9 520.6,243.4 521.6,242.9 522.6,242.5 523.6,242 524.6,241.6 525.5,241.2 526.4,240.8 527.3,240.4 528.2,240.1 529,239.8 529.8,239.5 530.5,239.3 531.9,238.9 533.1,238.6 534.1,238.5 535.1,238.3 535.9,238.3 536.7,238.3 537.5,238.4 538.2,238.5 539.1,238.6 540,238.7 540.9,238.9 541.9,239.1 542.8,239.3 543.6,239.6 544.6,240 545.5,240.3 546.5,240.7 547.6,241.1 548.7,241.6 550,242 550.8,242.3 551.6,242.5 552.5,242.8 553.4,243.1 554.3,243.3 555.3,243.6 556.2,243.9 557.2,244.2 558.2,244.6 559.3,244.9 560.3,245.2 561.3,245.5 562.4,245.9 563.5,246.2 564.5,246.6 565.6,246.9 566.7,247.3 567.6,247.6 568.6,248 569.6,248.3 570.7,248.7 571.7,249.1 572.8,249.5 573.9,249.9 575,250.3 576.1,250.7 577.2,251.1 578.2,251.5 579.3,251.9 580.4,252.3 581.4,252.7 582.4,253.1 583.3,253.4 584.2,253.8 585.1,254.1 585.9,254.4 586.7,254.7 588,255.2 588.9,255.5 589.6,255.8 590.2,256 590.7,256.2 591.3,256.4 592,256.7 592.9,257 594.3,257.4 596,258 596.7,258.2 597.4,258.4 598.2,258.7 599,259 599.9,259.3 600.8,259.6 601.7,259.9 602.7,260.2 603.7,260.5 604.7,260.9 605.7,261.2 606.8,261.6 607.9,261.9 609,262.3 610.1,262.6 611.2,263 612.4,263.3 613.5,263.7 614.6,264 615.7,264.4 616.8,264.7 617.9,265 619,265.4 620.1,265.7 621.1,266 622.1,266.2 623.1,266.5 624.1,266.7 625,266.9 625.9,267.1 626.7,267.3 627.9,267.5 629.2,267.8 630.3,268 631.5,268.1 632.6,268.3 633.7,268.4 634.8,268.6 635.8,268.7 636.8,268.7 637.8,268.8 638.8,268.8 639.7,268.8 640.6,268.8 641.5,268.8 642.4,268.7 643.3,268.6 644.2,268.5 645,268.3 645.9,268.2 646.7,268 647.9,267.7 649,267.3 650,266.9 651,266.4 651.9,265.8 652.9,265.2 653.8,264.6 654.7,263.9 655.5,263.2 656.4,262.5 657.3,261.7 658.2,260.9 659.1,260.1 660,259.3 660.9,258.4 661.9,257.5 662.8,256.5 663.8,255.5 664.7,254.4 665.7,253.4 666.6,252.3 667.6,251.1 668.5,250 669.5,248.9 670.4,247.8 671.4,246.7 672.3,245.7 673.3,244.7 674.3,243.7 675.2,242.8 676.2,241.9 677.1,241 678.1,240.1 679,239.3 680,238.4 681,237.5 681.9,236.6 682.9,235.8 683.8,234.9 684.8,233.9 685.7,233 686.7,232 687.6,231 688.6,230 689.5,228.9 690.4,227.9 691.3,226.8 692.3,225.7 693.2,224.6 694.1,223.5 695.1,222.4 696,221.2 697,220.1 698,219 699,217.8 700,216.7 700.9,215.7 701.8,214.7 702.8,213.7 703.7,212.7 704.7,211.7 705.6,210.6 706.6,209.6 707.6,208.6 708.6,207.5 709.6,206.5 710.6,205.4 711.7,204.3 712.7,203.3 713.8,202.2 714.9,201.1 716,200 716.9,199.1 717.9,198.2 718.8,197.2 719.8,196.3 720.8,195.3 721.9,194.3 722.9,193.3 724,192.3 725,191.3 726.1,190.4 727.1,189.4 728.2,188.4 729.2,187.4 730.3,186.5 731.3,185.6 732.3,184.6 733.2,183.8 734.2,182.9 735.1,182.1 736,181.3 737.1,180.3 738.3,179.3 739.4,178.3 740.5,177.3 741.5,176.4 742.6,175.5 743.6,174.6 744.6,173.8 745.6,173 746.5,172.2 747.4,171.5 748.3,170.9 749.1,170.3 749.9,169.8 750.7,169.3 752,168.6 753.1,168 754,167.6 754.9,167.4 755.7,167.4 756.6,167.6 757.6,168 758.7,168.7 759.5,169.3 760.4,170.2 761.2,171.1 762.1,172.2 762.9,173.3 763.9,174.6 764.8,175.9 765.9,177.2 767,178.6 768.1,180 769.4,181.4 770.7,182.7 771.5,183.4 772.3,184.2 773.3,185 774.2,185.8 775.2,186.7 776.2,187.5 777.3,188.4 778.4,189.3 779.5,190.1 780.6,191 781.7,191.9 782.8,192.8 783.9,193.6 785,194.5 786,195.3 787,196.1 788,196.8 788.9,197.6 789.8,198.2 790.6,198.9 791.3,199.5 792,200 793.5,201.3 794.3,202.2 794.8,202.7 795.1,203.2 795.6,203.6 796.5,204.1 798.3,205 799,205.3 799.7,205.6 800.5,206 801.3,206.4 802.2,206.7 803.2,207.1 804.2,207.6 805.2,208 806.3,208.4 807.4,208.8 808.5,209.3 809.6,209.7 810.7,210.2 811.9,210.6 813,211 814.1,211.5 815.3,211.9 816.4,212.3 817.5,212.8 818.5,213.2 819.6,213.6 820.6,214 821.5,214.3 822.4,214.7 823.3,215 824.5,215.5 825.7,215.9 826.8,216.3 827.9,216.7 828.9,217.1 829.9,217.5 830.9,217.8 831.9,218.1 832.9,218.5 833.8,218.8 834.7,219.1 835.6,219.4 836.5,219.7 837.4,220.1 838.2,220.4 839.1,220.7 840,221 841.1,221.4 842.1,221.8 843.1,222.3 844.1,222.7 845.1,223.1 846.1,223.5 847,224 848,224.4 848.9,224.7 849.8,225.1 850.7,225.4 851.6,225.6 852.4,225.8 853.3,226 854.4,226.1 855.4,226.2 856.3,226.3 857.3,226.3 858.2,226.2 859.1,226.1 860,225.9 861,225.7 861.9,225.4 862.9,225.1 864,224.7 864.9,224.3 865.8,223.9 866.7,223.4 867.7,222.8 868.7,222.2 869.7,221.5 870.7,220.9 871.7,220.2 872.7,219.5 873.7,218.9 874.7,218.3 875.6,217.7 876.5,217.2 877.3,216.7 878.4,216.1 879.4,215.7 880.4,215.2 881.3,214.8 882.2,214.5 883,214.2 883.9,213.8 884.8,213.5 885.7,213.1 886.7,212.7 887.6,212.3 888.5,211.8 889.4,211.4 890.2,210.9 891.1,210.4 892,209.9 893,209.4 894,209 895,208.6 896.1,208.3 897.3,208 898.1,207.8 899,207.7 899.8,207.6 900.7,207.4 901.5,207.3 902.4,207.3 903.4,207.2 904.3,207.1 905.3,207.1 906.3,207.1 907.3,207.1 908.4,207.1 909.6,207.1 910.8,207.2 912,207.2 913.3,207.3 914.1,207.4 915,207.4 915.9,207.5 916.8,207.6 917.8,207.7 918.8,207.9 919.9,208 920.9,208.1 922,208.3 923.1,208.4 924.2,208.6 925.3,208.7 926.5,208.9 927.6,209.1 928.7,209.2 929.8,209.4 930.9,209.5 931.9,209.7 933,209.8 934,210 935,210.1 935.9,210.2 936.8,210.4 937.7,210.5 938.5,210.6 939.3,210.6 940,210.7 941.7,210.8 943,210.9 944.2,210.9 945.1,210.9 946,210.9 946.7,210.8 947.4,210.7 948.2,210.6 949,210.5 950,210.3 950.9,210.2 951.7,210 952.5,209.8 953.3,209.6 954.1,209.4 954.9,209.1 955.8,208.9 956.7,208.6 957.7,208.3 958.8,208.1 960,207.8 961.3,207.5 962.1,207.3 962.9,207.2 963.7,207 964.6,206.8 965.5,206.6 966.4,206.4 967.4,206.2 968.4,206 969.4,205.8 970.4,205.6 971.4,205.4 972.5,205.2 973.6,205 974.6,204.8 975.7,204.6 976.8,204.4 977.9,204.2 979,204.1 980.1,203.9 981.1,203.8 982.2,203.6 983.3,203.5 984.3,203.4 985.2,203.3 986.2,203.3 987.2,203.2 988.2,203.2 989.3,203.1 990.3,203.1 991.4,203.1 992.4,203.1 993.5,203 994.5,203 995.6,203 996.7,203 997.7,203 998.8,203 999.8,203 1000.8,203 1001.8,202.9 1002.8,202.9 1003.8,202.9 1004.7,202.8 1005.7,202.7 1006.6,202.7 1007.5,202.6 1008.3,202.5 1009.5,202.3 1010.7,202.2 1011.8,202 1012.9,201.8 1013.9,201.5 1014.9,201.3 1015.9,201.1 1016.9,200.8 1017.8,200.6 1018.7,200.3 1019.6,200 1020.5,199.8 1021.4,199.5 1022.3,199.2 1023.2,198.9 1024.1,198.6 1025,198.3 1026,197.9 1027.1,197.6 1028.2,197.1 1029.3,196.7 1030.4,196.3 1031.5,195.8 1032.6,195.4 1033.7,194.9 1034.7,194.5 1035.6,194.1 1036.5,193.7 1037.3,193.3 1038,193 1038.7,192.7 1039.2,192.5" stroke="#ffa500" stroke-width="1.75" fill="none" stroke-linejoin="round"/>
<path d="M662.4,231.6 662.9,231.6 663.5,231.6 664.1,231.6 664.8,231.6 665.5,231.6 666.2,231.6 667,231.7 667.8,231.7 668.7,231.7 669.5,231.7 670.5,231.7 671.4,231.7 672.4,231.7 673.4,231.7 674.4,231.8 675.5,231.8 676.5,231.8 677.6,231.8 678.7,231.8 679.8,231.8 680.9,231.8 682.1,231.9 683.2,231.9 684.4,231.9 685.5,231.9 686.7,231.9 687.8,231.9 689,231.9 690.1,231.9 691.3,232 692.4,232 693.5,232 694.7,232 695.8,232 696.8,232 697.9,232 699,232 700,232 701,232 702,232 703,232 704,232 705,232 706.1,232 707.1,232 708.2,232 709.2,232 710.3,232 711.4,232 712.5,232 713.5,232 714.6,232 715.7,232 716.8,232 717.9,232 719,232 720,232 721.1,232 722.2,232 723.2,232 724.3,232 725.3,232 726.4,232 727.4,232 728.4,231.9 729.4,231.9 730.4,231.9 731.4,231.9 732.3,231.9 733.2,231.9 734.2,231.9 735.1,231.8 735.9,231.8 736.8,231.8 737.6,231.8 738.4,231.8 739.2,231.7 740,231.7 741.4,231.6 742.8,231.5 744,231.4 745.1,231.3 746.2,231.2 747.2,231 748.1,230.9 749,230.8 749.8,230.6 750.6,230.5 751.4,230.3 752.2,230.2 753.1,230.1 753.9,229.9 754.8,229.8 755.7,229.8 756.6,229.7 757.7,229.7 758.8,229.7 760,229.7 760.8,229.7 761.7,229.8 762.6,229.9 763.5,229.9 764.5,230 765.4,230.1 766.4,230.3 767.4,230.4 768.4,230.5 769.4,230.7 770.5,230.8 771.5,231 772.6,231.1 773.6,231.3 774.7,231.5 775.8,231.6 776.8,231.8 777.9,231.9 778.9,232.1 780,232.3 781.1,232.4 782.1,232.5 783.1,232.7 784.2,232.8 785.2,232.9 786.2,233 787.2,233.1 788.1,233.2 789.1,233.3 790,233.3 791.1,233.3 792.2,233.4 793.2,233.4 794.3,233.4 795.3,233.4 796.3,233.4 797.4,233.4 798.4,233.4 799.4,233.3 800.4,233.3 801.3,233.3 802.3,233.2 803.3,233.2 804.3,233.1 805.2,233 806.2,232.9 807.2,232.9 808.1,232.8 809.1,232.7 810.1,232.6 811.1,232.5 812,232.4 813,232.2 814,232.1 815,232 816,231.9 817,231.7 818,231.6 818.9,231.4 819.9,231.2 820.9,231 821.9,230.8 822.8,230.6 823.8,230.4 824.8,230.2 825.7,229.9 826.7,229.7 827.7,229.5 828.7,229.3 829.6,229 830.6,228.8 831.6,228.6 832.6,228.4 833.7,228.1 834.7,227.9 835.7,227.7 836.8,227.5 837.8,227.3 838.9,227.2 840,227 840.9,226.9 841.9,226.7 842.8,226.6 843.7,226.5 844.7,226.4 845.7,226.3 846.7,226.2 847.6,226.1 848.6,226 849.6,225.9 850.6,225.8 851.6,225.7 852.7,225.6 853.7,225.5 854.7,225.4 855.7,225.3 856.7,225.2 857.8,225.1 858.8,225 859.8,224.9 860.8,224.9 861.9,224.8 862.9,224.7 863.9,224.6 864.9,224.5 866,224.4 867,224.3 868,224.2 869,224.1 870,224 871,223.9 872,223.8 873,223.7 874.1,223.6 875.1,223.4 876.2,223.3 877.2,223.2 878.3,223.1 879.3,223 880.4,222.8 881.4,222.7 882.5,222.6 883.5,222.5 884.6,222.3 885.6,222.2 886.7,222.1 887.7,222 888.7,221.9 889.7,221.8 890.7,221.6 891.7,221.5 892.7,221.4 893.7,221.3 894.6,221.2 895.6,221.1 896.5,221 897.4,220.9 898.3,220.9 899.2,220.8 900,220.7 901.2,220.6 902.4,220.5 903.4,220.4 904.5,220.4 905.5,220.3 906.4,220.3 907.3,220.3 908.2,220.2 909.1,220.2 910,220.2 910.9,220.2 911.8,220.1 912.7,220.1 913.6,220.1 914.5,220 915.5,220 916.6,219.9 917.6,219.9 918.8,219.8 920,219.7 920.8,219.6 921.7,219.6 922.6,219.5 923.5,219.4 924.4,219.3 925.3,219.3 926.2,219.2 927.2,219.1 928.2,219 929.1,218.9 930.1,218.8 931.1,218.7 932.1,218.6 933.1,218.5 934.2,218.4 935.2,218.3 936.2,218.2 937.3,218.1 938.3,218 939.4,217.9 940.4,217.8 941.5,217.7 942.6,217.6 943.6,217.5 944.7,217.3 945.8,217.2 946.8,217.1 947.9,217 948.9,216.8 950,216.7 950.9,216.6 951.9,216.5 952.9,216.3 953.9,216.2 954.9,216 955.9,215.9 956.9,215.8 958,215.6 959,215.5 960.1,215.3 961.1,215.1 962.2,215 963.2,214.8 964.3,214.7 965.4,214.5 966.4,214.3 967.5,214.2 968.5,214 969.6,213.8 970.6,213.7 971.6,213.5 972.6,213.4 973.6,213.2 974.6,213 975.6,212.9 976.5,212.7 977.5,212.6 978.4,212.5 979.3,212.3 980.1,212.2 981,212.1 981.8,211.9 982.5,211.8 983.3,211.7 984.7,211.5 986,211.3 987.2,211.1 988.4,211 989.4,210.8 990.4,210.7 991.4,210.6 992.3,210.5 993.1,210.3 994,210.2 994.8,210.1 995.6,210 996.4,209.9 997.3,209.8 998.1,209.6 999,209.5 1000,209.3 1001,209.1 1001.9,208.9 1002.9,208.8 1003.8,208.6 1004.7,208.4 1005.7,208.2 1006.6,208 1007.5,207.8 1008.5,207.6 1009.4,207.3 1010.4,207.1 1011.4,206.9 1012.4,206.7 1013.4,206.5 1014.5,206.2 1015.6,206 1016.7,205.8 1017.6,205.6 1018.5,205.5 1019.5,205.3 1020.5,205.1 1021.6,204.9 1022.7,204.7 1023.8,204.5 1025,204.3 1026.1,204 1027.3,203.8 1028.4,203.6 1029.6,203.4 1030.7,203.2 1031.8,203 1032.8,202.8 1033.8,202.7 1034.8,202.5 1035.7,202.3 1036.5,202.2 1037.3,202 1038,201.9 1038.7,201.8 1039.2,201.7" stroke="#008000" stroke-width="1.75" fill="none" stroke-linejoin="round"/>
<path d="M295.8,133.3 296.3,133 297,132.7 297.9,132.3 298.8,131.8 299.8,131.3 300.8,130.8 301.9,130.3 303,129.9 304,129.5 305,129.2 306,128.9 307,128.7 308,128.5 309.1,128.4 310.2,128.2 311.2,128.1 312.2,128 313.2,128 314.1,128 315,128 316.1,128.1 317.2,128.4 318.2,128.8 319.1,129.2 320,129.6 320.9,129.9 321.7,130 322.8,129.9 323.7,129.5 324.7,129.1 325.6,128.7 326.7,128.7 327.6,128.9 328.5,129.2 329.5,129.7 330.6,130.2 331.5,130.7 332.5,131.2 333.3,131.7 334.3,132.5 335.2,133.4 336,134.3 336.8,134.9 337.5,135 338.4,134.1 339.2,132.4 339.9,130.7 340.8,129.7 341.6,129.7 342.4,130.1 343.2,130.7 344.1,131.6 345,132.5 345.9,133.5 346.9,134.6 348,135.9 349,137.4 350,139 351,141 352,143.3 353,145.8 354,148.1 355,150 356,151.3 356.9,152.2 357.9,153 358.9,154.1 360,155.8 360.9,157.5 361.8,159.4 362.8,161.5 363.7,163.8 364.7,166.3 365.7,169 366.7,171.7 367.7,174.7 368.6,178.1 369.6,181.6 370.6,185.2 371.5,188.8 372.4,192.1 373.3,195 374.3,198.7 375.1,202.1 375.9,205.1 376.9,207.6 378.3,209.5 379.1,210.1 379.9,210.4 380.9,210.6 381.9,210.6 382.9,210.6 384,210.5 385.1,210.3 386.2,210.1 387.2,210 388.3,210 389.3,210 390.3,210.1 391.3,210.3 392.3,210.5 393.3,210.8 394.3,211 395.2,211.2 396.2,211.5 397.2,211.7 398.1,211.8 399.1,211.9 400,212 401,212 402,212.1 403,212.1 403.9,212.2 404.9,212.1 405.8,212.1 406.7,211.9 407.6,211.6 408.5,211.2 409.3,210.7 410.3,209.3 411,207.2 411.7,204.7 412.3,202.3 413.2,200.5 414.4,199.5 416,200 416.7,200.6 417.5,201.5 418.3,202.6 419.2,204 420.1,205.6 421.1,207.3 422.1,209.1 423.1,211 424.2,213 425.2,215 426.3,217 427.5,218.9 428.6,220.7 429.7,222.5 430.8,224.1 431.9,225.5 432.9,226.7 434,227.7 435,228.3 436,228.7 437,228.7 438.1,228.5 439.2,227.9 440.3,227.2 441.4,226.2 442.5,225 443.6,223.7 444.7,222.2 445.7,220.7 446.8,219.1 447.8,217.6 448.9,216 449.8,214.4 450.8,213 451.7,211.6 452.5,210.4 453.3,209.4 454,208.6 454.7,208 456.3,207.1 457.4,207.2 458,207.9 458.5,209 459.1,210.2 460,211.3 460.8,212.1 461.5,213 462.2,214.1 463,215.2 463.9,216.3 465,217.3 466.3,218.1 468,218.7 468.7,218.9 469.5,219 470.3,219.1 471.3,219.3 472.2,219.4 473.2,219.5 474.3,219.5 475.4,219.6 476.5,219.7 477.6,219.7 478.7,219.7 479.9,219.7 481,219.7 482.1,219.7 483.1,219.6 484.2,219.5 485.2,219.4 486.1,219.3 487,219.2 487.9,219.1 488.6,218.9 489.3,218.7 490.8,217.8 491.5,216.5 491.8,215 492,213.4 492.6,212 493.8,210.8 496,210 496.6,209.9 497.3,209.8 498.1,209.7 498.9,209.7 499.7,209.6 500.7,209.6 501.6,209.5 502.6,209.5 503.7,209.5 504.7,209.5 505.8,209.5 507,209.5 508.1,209.5 509.3,209.6 510.5,209.6 511.6,209.6 512.8,209.7 514,209.8 515.2,209.8 516.3,209.9 517.5,210 518.6,210.1 519.8,210.2 520.8,210.4 521.9,210.5 522.9,210.6 523.9,210.8 524.8,210.9 525.7,211.1 526.6,211.2 527.3,211.4 528.1,211.6 528.7,211.8 529.3,212 532.3,214.5 533,217.9 532.9,221.3 533.3,224 534.1,225.2 535,226.2 535.8,227 536.8,227.6 537.7,227.9 538.7,228 539.5,227.7 540.4,227.1 541.2,226.3 542.1,225.3 543.1,224.5 544.1,223.7 545.3,223.3 546.1,223.2 547.1,223.2 548.1,223.3 549.1,223.5 550.2,223.7 551.3,223.9 552.3,224.2 553.4,224.4 554.3,224.6 555.2,224.7 556,224.7 557.1,224.3 557.8,223.5 558.4,222.5 559,221.9 559.9,221.8 561.3,222.7 562,223.4 562.8,224.3 563.6,225.3 564.5,226.5 565.4,227.8 566.4,229.2 567.4,230.7 568.5,232.2 569.5,233.8 570.6,235.4 571.7,237 572.8,238.5 573.9,240 574.9,241.4 576,242.7 576.9,243.8 577.9,245 578.9,246.3 580,247.6 581,248.9 582.1,250.2 583.1,251.4 584.2,252.7 585.3,253.9 586.3,255.1 587.3,256.2 588.3,257.1 589.3,258 590.2,258.8 591.1,259.5 591.9,260 592.7,260.3 594,260.5 595.2,260 596.3,259.2 597.3,258 598.1,256.6 599,255.1 599.8,253.6 600.5,252.3 601.3,251.3 602.3,250.1 603.1,248.9 603.9,247.8 604.6,246.8 605.5,246 606.7,245.3 607.5,245 608.3,244.7 609.2,244.5 610.2,244.3 611.2,244.1 612.2,244 613.2,243.9 614.3,243.9 615.3,243.9 616.3,243.9 617.3,244 618.3,244.2 619.3,244.4 620.2,244.8 621.2,245.2 622.2,245.6 623.2,246 624.2,246.4 625.2,246.8 626.1,247.1 627.1,247.3 628,247.3 629,247.2 630,246.9 630.9,246.5 631.9,246.1 632.8,245.5 633.7,245 634.6,244.5 635.5,244 636.4,243.6 637.3,243.3 638.4,243.2 639.5,243.4 640.6,243.7 641.6,244 642.7,244.2 643.6,244.1 644.5,243.7 645.3,242.7 646.5,239.2 647.5,234.4 648.3,228.8 649.3,223.3 650.1,219.7 651,215.9 651.9,212 652.9,208.2 653.8,204.4 654.7,200.7 655.6,197.1 656.5,193.4 657.4,189.9 658.3,186.5 659.2,183.4 660,180.7 661.1,177.6 662,175.5 662.9,173.5 664,171.3 664.7,169.5 665.5,167.7 666.2,165.7 667.1,163.8 668.1,161.9 669.3,160 670.1,158.9 671,157.8 672,156.6 673,155.3 674.1,154.1 675.1,153 676.2,151.9 677.3,150.9 678.3,150.2 679.2,149.6 680,149.3 681.2,149.7 682.2,151 683,152.9 683.9,154.7 684.8,155.9 686,156 686.8,155.4 687.7,154.3 688.7,152.9 689.7,151.3 690.7,149.5 691.8,147.7 692.8,145.8 693.9,144.1 695,142.6 696,141.3 697,140.3 697.9,139.4 698.9,138.6 700,137.8 701,137.1 702,136.4 703,135.8 704,135.3 704.9,134.8 705.8,134.4 706.7,134 707.8,133.6 709,133.4 710,133.3 711,133.3 712,133.4 713,133.6 713.8,133.8 714.7,134 715.7,134.4 716.5,135.1 717.2,135.8 717.9,136.5 718.8,137.1 720,137.3 720.8,137.3 721.7,137.1 722.6,136.9 723.6,136.6 724.7,136.2 725.7,135.9 726.8,135.5 727.8,135.2 728.8,134.9 729.8,134.8 730.7,134.7 731.8,134.8 732.6,135 733.4,135.3 734.2,135.7 735,136.1 736,136.6 737.2,137 738.7,137.3 739.5,137.4 740.3,137.6 741.2,137.7 742.2,137.8 743.3,138 744.4,138.1 745.5,138.3 746.7,138.4 747.9,138.6 749,138.7 750.2,138.8 751.3,139 752.4,139.1 753.4,139.2 754.4,139.3 755.3,139.3 756.2,139.4 756.9,139.5 757.5,139.5 759.4,140.6 759.6,141.3 760,138.3 760.9,133.2 761.9,125.9 762.9,117.7 764,109.7 765,103.3 765.9,98.3 766.8,94 767.6,90.4 768.5,87.6 769.3,85.8 770.3,85 771.3,85.6 772.2,87.3 773.3,90 774.2,92.6 775.1,95.7 776,99.6 777.1,104.3 778.3,110 779.1,113.9 780,118.3 780.9,123.2 781.9,128.4 782.9,133.7 783.9,139 784.9,144.1 785.8,148.9 786.7,153.3 787.8,158.5 788.8,163.5 789.7,168.2 790.7,172.7 791.6,176.7 792.5,180.3 793.3,183.3 794.3,186.6 795.3,189 796.1,190.6 797.1,191.4 798.3,191.7 799.1,191.5 799.8,191.1 800.7,190.4 801.5,189.5 802.4,188.4 803.4,187.2 804.4,185.9 805.5,184.6 806.7,183.3 807.5,182.4 808.3,181.3 809.2,180.1 810.1,178.8 811,177.5 812,176.2 813,174.8 813.9,173.5 814.9,172.3 816,171.2 817,170.2 818,169.4 819,168.8 820,168.5 820.9,168.4 821.9,168.5 822.9,168.8 823.9,169.3 824.9,169.9 825.9,170.6 826.9,171.3 827.9,172.1 828.9,173 829.9,173.8 830.9,174.7 831.9,175.5 832.9,176.2 833.8,176.8 834.7,177.3 835.8,177.8 836.9,178.3 838,178.7 839,179.1 840,179.4 841,179.7 842,180 843,180.3 844,180.6 844.9,180.8 845.8,181.1 846.7,181.3 847.7,181.6 848.8,181.8 849.7,181.9 850.7,182 851.6,182.1 852.5,182.3 853.4,182.4 854.3,182.6 855.1,182.9 856,183.3 857.1,184 858.1,184.9 859.2,185.9 860.2,187 861.2,188 862.1,188.9 863.1,189.6 864,190 865,190 866,189.6 866.9,189 867.8,188.2 868.7,187.5 869.7,186.9 870.7,186.7 871.6,186.7 872.5,186.8 873.4,187 874.3,187.3 875.3,187.7 876.3,188.1 877.4,188.7 878.7,189.3 879.5,189.8 880.4,190.3 881.3,191 882.3,191.8 883.3,192.5 884.3,193.4 885.4,194.2 886.4,194.9 887.4,195.6 888.4,196.3 889.4,196.8 890.3,197.1 891.2,197.3 892,197.3 893.2,196.8 894.3,195.6 895.3,194.1 896.2,192.4 897,190.5 897.9,188.7 898.9,187.2 900,186 900.9,185.4 901.8,184.8 902.7,184.3 903.7,183.9 904.7,183.6 905.7,183.3 906.7,183.1 907.7,182.9 908.7,182.8 909.7,182.7 910.7,182.7 911.7,182.8 912.7,183 913.7,183.4 914.7,183.8 915.7,184.3 916.7,184.8 917.6,185.3 918.6,185.6 919.5,185.9 920.4,186.1 921.3,186 922.5,185.6 923.6,184.9 924.7,184 925.7,182.9 926.7,181.9 927.6,180.8 928.5,179.9 929.3,179.3 930.5,178.5 931.2,177.9 932,177.8 933.3,178 934,178.3 934.9,178.7 935.8,179.2 936.8,179.9 937.8,180.5 938.9,181.2 939.9,181.7 940.9,182.2 941.8,182.6 942.7,182.7 943.8,182.7 944.7,182.5 945.5,182.1 946.3,181.5 947.2,180.8 948.2,179.9 949.3,178.7 950.1,177.8 951,176.6 951.9,175.2 952.9,173.7 953.9,172.2 954.9,170.6 955.9,169.1 956.9,167.8 958,166.6 959,165.6 960,165 961,164.7 961.9,164.6 962.9,164.7 963.8,164.9 964.7,165.3 965.7,165.8 966.6,166.4 967.7,166.9 968.7,167.4 969.8,167.9 971,168.2 971.9,168.4 972.8,168.5 973.8,168.7 974.8,168.9 975.9,169 976.9,169.1 978,169.3 979.1,169.4 980.2,169.6 981.3,169.7 982.3,169.9 983.3,170.1 984.3,170.2 985.1,170.4 986,170.6 986.7,170.8 988.1,171.3 989.2,171.7 990.2,172.1 990.9,172.6 991.7,173.2 992.4,174 993.3,175 994.3,176.4 995.2,178.2 996.2,180.2 997.1,182.2 998.1,184.1 999,185.7 1000,186.7 1000.9,187.2 1001.8,187.4 1002.7,187.3 1003.6,186.9 1004.5,186.4 1005.6,185.7 1006.7,185 1007.6,184.5 1008.5,183.8 1009.6,183.2 1010.6,182.4 1011.7,181.6 1012.8,180.7 1013.8,179.8 1014.9,178.8 1015.8,177.8 1016.7,176.7 1017.8,175 1018.8,173 1019.8,170.8 1020.6,168.7 1021.5,166.6 1022.4,164.8 1023.3,163.3 1024.3,162.2 1025.2,161.4 1026.2,160.7 1027.1,160.2 1028.1,159.9 1029,159.5 1030,159.2 1031,158.9 1032,158.8 1033.1,158.8 1034.1,158.8 1035.1,158.8 1036,158.6 1036.7,158.3 1037.9,156.8 1038.7,154.7 1039.2,153.3" stroke="#800080" stroke-width="1.75" fill="none" stroke-dasharray="6.6,2.6"/>
<path d="M295.8,188.3 296.3,188 297,187.7 297.9,187.3 298.8,186.8 299.8,186.3 300.8,185.8 301.9,185.3 303,184.8 304,184.4 305,184 306,183.7 307,183.4 308.1,183.2 309.2,183 310.3,182.8 311.3,182.6 312.3,182.4 313.3,182.3 314.2,182.1 315,182 316.3,181.8 317.4,181.6 318.2,181.5 319.1,181.5 320,181.7 321,182.2 322,182.8 323,183.6 324,184.4 325,185 326,185.4 327,185.6 328,185.9 329,186.2 330,186.7 331,187.5 332.1,188.4 333.1,189.4 334.1,190.5 335,191.7 336,193.1 336.9,194.6 337.6,196.3 338.3,198.3 339.1,203.4 340,210 340.7,214 341.6,218.4 342.7,223.1 344,228 344.8,230.6 345.7,233.4 346.8,236.3 347.8,239.2 348.9,242 350,244.7 351,247.2 352,249.3 353,251.3 353.9,253.1 354.8,254.6 355.6,255.9 356.5,257 357.5,257.9 358.7,258.7 359.5,259.1 360.4,259.5 361.3,259.8 362.3,260.1 363.2,260.3 364.3,260.4 365.3,260.4 366.3,260.3 367.3,260.1 368.3,259.9 369.3,259.5 370.3,259 371.3,258.2 372.2,257.3 373.2,256.2 374.2,255.1 375.2,254 376.2,252.9 377.2,251.8 378.1,250.8 379.1,250 380,249.3 381,248.7 381.9,248.3 382.7,247.9 383.6,247.6 384.4,247.4 385.3,247.3 386.2,247.3 387.2,247.3 388.2,247.4 389.3,247.5 390.2,247.6 391.1,247.9 392.1,248.1 393.2,248.4 394.3,248.7 395.4,249.1 396.5,249.5 397.6,249.9 398.6,250.3 399.7,250.8 400.7,251.3 401.6,251.7 402.5,252.2 403.3,252.7 404.7,253.6 405.8,254.4 406.8,255.3 407.7,256.3 408.5,257.5 409.2,258.9 410,260.7 411.2,264.9 412.1,270.1 413,275.6 414,280.7 414.8,283.9 415.6,287.1 416.4,290.3 417.3,293.2 418.2,295.8 419.3,298 420.2,299.3 421.1,300.4 422,301.2 423,301.9 424.1,302.5 425.1,302.9 426.2,303.1 427.3,303.3 428.2,303.3 429,303.1 429.9,302.7 430.8,302.2 431.7,301.7 432.6,301.2 433.5,300.7 434.5,300.3 435.6,300.1 436.7,300 437.5,300.1 438.4,300.4 439.3,300.9 440.3,301.4 441.2,302.1 442.2,302.7 443.2,303.3 444.2,303.9 445.2,304.4 446.2,304.7 447.2,304.9 448.1,304.9 449.1,304.6 450,304 451.1,302.9 452.1,301.4 453.2,299.5 454.2,297.4 455.3,295.1 456.3,292.6 457.3,290.1 458.3,287.6 459.3,285.2 460.2,283 461.1,281 462,279.3 463.1,277.2 464.1,275.2 464.9,273.5 465.8,272 466.6,270.7 467.5,269.6 468.6,268.7 470,268 470.8,267.7 471.6,267.5 472.6,267.4 473.5,267.3 474.5,267.3 475.6,267.4 476.7,267.5 477.8,267.6 478.8,267.8 479.9,268 481,268.2 482.1,268.4 483.1,268.6 484.1,268.9 485.1,269.1 486,269.3 487.1,269.7 488.1,270.2 489.1,270.9 490,271.7 490.9,272.5 491.8,273.3 492.6,274 493.6,274.5 494.5,274.9 495.6,275.1 496.7,275.1 498,274.7 498.8,274.3 499.7,273.7 500.6,273 501.6,272.2 502.6,271.3 503.7,270.3 504.7,269.2 505.8,268.1 506.9,266.9 508,265.7 509.1,264.5 510.2,263.3 511.3,262.2 512.3,261 513.4,260 514.4,259 515.4,258.1 516.3,257.2 517.2,256.6 518,256 519.3,255.3 520.5,254.9 521.7,254.7 522.8,254.6 523.9,254.7 524.9,254.9 525.9,255.1 526.8,255.3 527.7,255.4 528.5,255.5 529.3,255.5 530,255.3 531.3,254.5 532.2,253.4 533,252.1 533.7,250.9 534.5,249.9 535.3,249.3 536.2,249.1 537.1,249.1 538.1,249.4 539.1,249.9 540.1,250.8 541.3,252 542.1,253 543.1,254.3 544,255.8 545,257.3 546,259 547,260.8 548,262.5 549,264.3 550,266 550.9,267.7 551.8,269.4 552.6,271.2 553.5,273 554.3,274.9 555.3,276.7 556.3,278.5 557.4,280.3 558.7,282 559.5,283 560.4,284 561.4,285 562.4,286 563.4,287.1 564.5,288.1 565.6,289.1 566.7,290.1 567.9,291.1 569,292 570,293 571.1,293.8 572.1,294.6 573,295.4 573.9,296.1 574.7,296.7 576.1,297.7 577.2,298.5 578.2,299 579.1,299.5 580,299.8 580.8,300 581.7,300.2 582.7,300.5 583.6,300.7 584.4,300.9 585.3,301 586.1,301.1 587,301.2 588,301.2 588.9,301.3 589.9,301.3 590.9,301.4 592,301.5 592.9,301.6 593.8,301.7 594.8,301.8 595.9,302 596.9,302.1 598,302.2 599.1,302.4 600.1,302.5 601.2,302.6 602.2,302.6 603.2,302.6 604.1,302.6 605,302.5 606.2,302.3 607.3,302 608.4,301.6 609.4,301.1 610.4,300.7 611.3,300.1 612.2,299.6 613.1,299 614,298.5 615.1,297.8 616.1,297.2 617,296.5 617.9,295.8 618.9,295 619.9,294.1 621,293 621.8,292.1 622.7,291.1 623.6,289.9 624.5,288.7 625.4,287.5 626.3,286.3 627.3,285.1 628.4,284.1 629.5,283.3 630.7,282.7 631.5,282.4 632.4,282.1 633.3,281.9 634.3,281.8 635.3,281.7 636.3,281.6 637.3,281.6 638.4,281.6 639.4,281.7 640.4,281.9 641.5,282 642.5,282.3 643.4,282.6 644.4,282.9 645.3,283.3 646.4,284 647.5,284.8 648.6,285.9 649.6,287 650.7,288.3 651.7,289.6 652.7,290.9 653.7,292.1 654.6,293.2 655.6,294.1 656.4,294.8 657.3,295.3 658.5,295.7 659.5,295.9 660.5,295.9 661.4,295.6 662.4,295.1 663.3,294.2 664.2,292.9 665.3,291.3 666.2,289.6 667.2,287.5 668.2,285 669.2,282.3 670.3,279.4 671.3,276.5 672.3,273.6 673.3,270.8 674.2,268.2 675,266 676.1,263.3 677.1,261.1 678.1,259.1 678.9,257.1 679.8,255.1 680.6,252.8 681.3,250 682.5,243.7 683.4,236.3 684.4,229.1 685.3,223.3 686.1,219.5 686.9,217 687.8,215 689.3,212.7 690,211.8 690.8,210.9 691.6,210.1 692.5,209.2 693.5,208.4 694.5,207.5 695.5,206.6 696.6,205.6 697.7,204.6 698.9,203.3 700,202 700.9,200.9 701.8,199.7 702.8,198.3 703.8,196.9 704.9,195.4 705.9,193.9 707,192.4 708.1,190.8 709.1,189.3 710.1,187.8 711.2,186.3 712.1,184.9 713,183.6 713.9,182.4 714.7,181.3 716,179.4 717.2,177.6 718.2,175.9 719.1,174.5 720,173.2 720.9,172.2 721.7,171.6 722.7,171.3 723.7,171.5 724.6,172.3 725.6,173.5 726.5,174.9 727.5,176.5 728.5,177.9 729.6,179.1 730.7,180 731.6,180.4 732.5,180.7 733.4,180.8 734.4,180.9 735.4,180.9 736.4,180.9 737.4,180.9 738.4,181 739.4,181 740.4,181.1 741.3,181.3 742.3,181.5 743.3,181.7 744.3,181.9 745.3,182.1 746.3,182.4 747.2,182.7 748.2,183.1 749.1,183.7 749.9,184.4 750.7,185.3 751.9,187.2 753,189.4 754,192 754.9,194.9 755.8,198.1 756.7,201.7 757.8,206.3 758.9,211.3 759.9,216.8 760.8,223 761.7,230 762.6,240.5 763.5,252.5 764.2,265 765,276.7 765.8,287.8 766.6,298.6 767.4,308.9 768.3,318.3 769,325.1 769.6,331.5 770.4,337.3 771.3,342.4 772.5,346.7 773.3,348.6 774.1,350.3 775,352 776,353.4 777,354.7 778,355.7 779.1,356.4 780.2,356.9 781.4,357 782.5,356.7 783.4,356.1 784.3,355.2 785.3,353.9 786.3,352.4 787.3,350.7 788.3,348.9 789.4,347 790.4,345.1 791.4,343.2 792.4,341.5 793.3,339.9 794.2,338.5 795,337.5 796.1,336.7 797.1,336.5 798,336.9 798.9,337.4 799.7,337.8 800.6,338 801.4,337.5 802.3,336.3 803.3,334 804.2,330.8 805.2,326.7 806.2,321.9 807.3,316.5 808.3,310.8 809.3,305.1 810.4,299.4 811.4,294 812.4,289.1 813.3,285 814.3,281.2 815.2,278 816.1,275.2 817,272.7 817.8,270.4 818.7,268.1 819.6,265.7 820.6,263 821.7,260 822.6,257.4 823.5,254.6 824.5,251.6 825.5,248.4 826.6,245.2 827.6,242 828.7,238.9 829.7,235.9 830.7,233.1 831.6,230.6 832.5,228.5 833.3,226.7 834.5,224.7 835.6,223.7 836.5,223.4 837.4,223.5 838.2,223.6 839.1,223.6 840,223 840.9,221.8 841.9,220.3 842.8,218.6 843.7,216.9 844.7,215.3 845.7,214.1 846.7,213.3 847.6,213.1 848.6,213.2 849.5,213.6 850.5,214.2 851.5,214.8 852.6,215.5 853.6,216.2 854.7,216.7 855.6,217 856.6,217.4 857.6,217.7 858.6,218.1 859.6,218.4 860.6,218.7 861.6,219.1 862.5,219.5 863.3,219.9 864,220.3 865.4,221.3 866.3,222.3 867.1,223.5 868,225.3 869,227.9 869.9,231.2 870.9,234.5 872,237.3 872.7,238.8 873.4,240.2 874.1,241.5 874.9,242.6 875.9,243.4 877.3,244 878,244.1 878.8,244.2 879.7,244.2 880.7,244.1 881.7,243.9 882.8,243.7 883.8,243.5 884.9,243.3 886,243.1 887,242.9 888,242.8 889,242.7 889.9,242.6 890.7,242.7 892,243 893.1,243.4 894.2,244 895.2,244.6 896.1,245.3 897,245.9 897.9,246.4 898.7,246.7 899.7,247.1 900.5,247.6 901.2,247.9 901.9,248 902.8,247.7 904,246.7 904.8,245.8 905.6,244.7 906.5,243.5 907.5,242 908.5,240.4 909.5,238.8 910.6,237.1 911.6,235.4 912.7,233.7 913.7,232.2 914.7,230.7 915.7,229.2 916.7,227.6 917.7,225.8 918.7,224 919.7,222.3 920.7,220.6 921.6,219.1 922.6,217.9 923.5,216.9 924.4,216.2 925.3,216 926.4,216.5 927.4,217.9 928.3,219.9 929.1,222.2 930,224.7 931,227.1 932.1,229.2 933.3,230.7 934.1,231.3 934.9,231.8 935.7,232.1 936.5,232.4 937.4,232.6 938.3,232.8 939.2,232.9 940.2,233 941.2,233.1 942.2,233.2 943.3,233.4 944.4,233.5 945.5,233.7 946.7,234 947.6,234.2 948.5,234.5 949.4,234.8 950.4,235.2 951.5,235.5 952.5,235.9 953.6,236.3 954.7,236.7 955.8,237.1 956.9,237.5 958,237.8 959.1,238.2 960.2,238.5 961.2,238.8 962.3,239 963.2,239.2 964.2,239.4 965.1,239.5 965.9,239.5 966.7,239.5 968.1,239.2 969.3,238.6 970.3,237.9 971.2,236.9 972,235.9 972.8,234.8 973.6,233.8 974.5,232.8 975.4,232.1 976.5,231.5 977.4,231.3 978.2,231.1 979.2,231 980.1,231 981.1,231.1 982,231.1 983,231.2 984,231.3 985,231.4 986,231.4 987.1,231.4 988,231.4 989,231.2 990,231 991,230.7 991.9,230.3 992.9,229.8 993.8,229.2 994.8,228.7 995.7,228.1 996.7,227.4 997.6,226.8 998.6,226.1 999.5,225.5 1000.4,224.9 1001.4,224.3 1002.3,223.8 1003.3,223.3 1004.3,222.9 1005.2,222.5 1006.2,222.1 1007.2,221.7 1008.2,221.4 1009.2,221.1 1010.2,220.7 1011.2,220.4 1012.2,220.1 1013.1,219.8 1014.1,219.4 1015,219.1 1015.8,218.7 1016.7,218.3 1017.8,217.7 1018.9,217 1019.9,216.4 1020.9,215.7 1021.8,214.9 1022.7,214.2 1023.7,213.6 1024.7,212.9 1025.7,212.3 1026.7,211.7 1027.6,211.3 1028.7,210.8 1029.8,210.4 1030.9,210 1032,209.6 1033.1,209.2 1034.2,208.8 1035.2,208.5 1036.2,208.2 1037,207.9 1037.7,207.7 1038.3,207.5" stroke="#800080" stroke-width="1.75" fill="none" stroke-dasharray="6.6,2.6"/>
<path d="M1081,100.5h4.8M1081,136.6h4.8M1081,172.8h4.8M1081,208.9h4.8M1081,245.1h4.8M1081,281.2h4.8M1081,317.3h4.8M1081,353.5h4.8M1081,382.4h4.8M1081,437.3h4.8M1081,492.4h4.8M257.5,492.9v4.7M359.3,492.9v4.7M461.1,492.9v4.7M562.8,492.9v4.7M664.6,492.9v4.7M766.4,492.9v4.7M868.2,492.9v4.7M969.9,492.9v4.7M1071.7,492.9v4.7" stroke="#000" stroke-width="1.1" fill="none"/>
<text x="1090.7" y="106" class="t" textLength="34.5" lengthAdjust="spacingAndGlyphs">8500</text>
<text x="1090.7" y="142.1" class="t" textLength="34.5" lengthAdjust="spacingAndGlyphs">8250</text>
<text x="1090.7" y="178.3" class="t" textLength="34.5" lengthAdjust="spacingAndGlyphs">8000</text>
<text x="1090.7" y="214.4" class="t" textLength="34.5" lengthAdjust="spacingAndGlyphs">7750</text>
<text x="1090.7" y="250.6" class="t" textLength="34.5" lengthAdjust="spacingAndGlyphs">7500</text>
<text x="1090.7" y="286.7" class="t" textLength="34.5" lengthAdjust="spacingAndGlyphs">7250</text>
<text x="1090.7" y="322.8" class="t" textLength="34.5" lengthAdjust="spacingAndGlyphs">7000</text>
<text x="1090.7" y="359" class="t" textLength="34.5" lengthAdjust="spacingAndGlyphs">6750</text>
<text x="1090.7" y="387.9" class="t" textLength="25.8" lengthAdjust="spacingAndGlyphs">200</text>
<text x="1090.7" y="442.8" class="t" textLength="25.8" lengthAdjust="spacingAndGlyphs">100</text>
<text x="1090.7" y="497.7" class="t" textLength="8.6" lengthAdjust="spacingAndGlyphs">0</text>
<text transform="translate(256.3,538.8) rotate(-45)" text-anchor="middle" dominant-baseline="central" class="t" textLength="87.1" lengthAdjust="spacingAndGlyphs">2024-Apr-17</text>
<text transform="translate(358.1,538.8) rotate(-45)" text-anchor="middle" dominant-baseline="central" class="t" textLength="84.7" lengthAdjust="spacingAndGlyphs">2024-Jun-27</text>
<text transform="translate(459.9,538.8) rotate(-45)" text-anchor="middle" dominant-baseline="central" class="t" textLength="89.2" lengthAdjust="spacingAndGlyphs">2024-Sep-05</text>
<text transform="translate(561.6,538.8) rotate(-45)" text-anchor="middle" dominant-baseline="central" class="t" textLength="90.1" lengthAdjust="spacingAndGlyphs">2024-Nov-14</text>
<text transform="translate(663.4,538.8) rotate(-45)" text-anchor="middle" dominant-baseline="central" class="t" textLength="84.4" lengthAdjust="spacingAndGlyphs">2025-Jan-28</text>
<text transform="translate(765.2,538.8) rotate(-45)" text-anchor="middle" dominant-baseline="central" class="t" textLength="87.1" lengthAdjust="spacingAndGlyphs">2025-Apr-08</text>
<text transform="translate(867,538.8) rotate(-45)" text-anchor="middle" dominant-baseline="central" class="t" textLength="84.7" lengthAdjust="spacingAndGlyphs">2025-Jun-20</text>
<text transform="translate(968.7,538.8) rotate(-45)" text-anchor="middle" dominant-baseline="central" class="t" textLength="90.2" lengthAdjust="spacingAndGlyphs">2025-Aug-29</text>
<text transform="translate(1142.5,224) rotate(-90)" text-anchor="middle" class="t" textLength="34.1" lengthAdjust="spacingAndGlyphs">Price</text>
<g transform="translate(1135.3,475.3) rotate(-90)"><text x="-0.5" y="0" class="t" textLength="52.7" lengthAdjust="spacingAndGlyphs">Volume</text><text x="61.8" y="0" class="t" textLength="16.5" lengthAdjust="spacingAndGlyphs">10</text><text x="78.5" y="-6.8" class="t" style="font-size:10.4px" textLength="6.3" lengthAdjust="spacingAndGlyphs">6</text></g>
<rect x="223.75" y="256.5" width="132.5" height="108.8" rx="3" fill="#fafafa" fill-opacity="0.8" stroke="#d6d6d6" stroke-width="1"/>
<path d="M228.7,267.9H256.9" stroke="#0000ff" stroke-width="1.85"/>
<text x="267.5" y="272.9" class="t" textLength="74.1" lengthAdjust="spacingAndGlyphs">20-day MA</text>
<path d="M228.7,288.8H256.9" stroke="#ffa500" stroke-width="1.85"/>
<text x="267.5" y="293.8" class="t" textLength="74.1" lengthAdjust="spacingAndGlyphs">50-day MA</text>
<path d="M228.7,309.8H256.9" stroke="#008000" stroke-width="1.85"/>
<text x="267.5" y="314.8" class="t" textLength="83.0" lengthAdjust="spacingAndGlyphs">200-day MA</text>
<path d="M228.7,330.8H254.5" stroke="#800080" stroke-width="1.85" stroke-dasharray="6.9,2.5"/>
<text x="267.5" y="335.8" class="t" textLength="65.5" lengthAdjust="spacingAndGlyphs">BB Upper</text>
<path d="M228.7,351.7H254.5" stroke="#800080" stroke-width="1.85" stroke-dasharray="6.9,2.5"/>
<text x="267.5" y="356.7" class="t" textLength="65.3" lengthAdjust="spacingAndGlyphs">BB Lower</text>
<text x="600" y="17.5" text-anchor="middle" class="title" textLength="480.7" lengthAdjust="spacingAndGlyphs">CAC 40 Daily Candlestick Chart (1.5 Years)</text>
</svg></body></html>
